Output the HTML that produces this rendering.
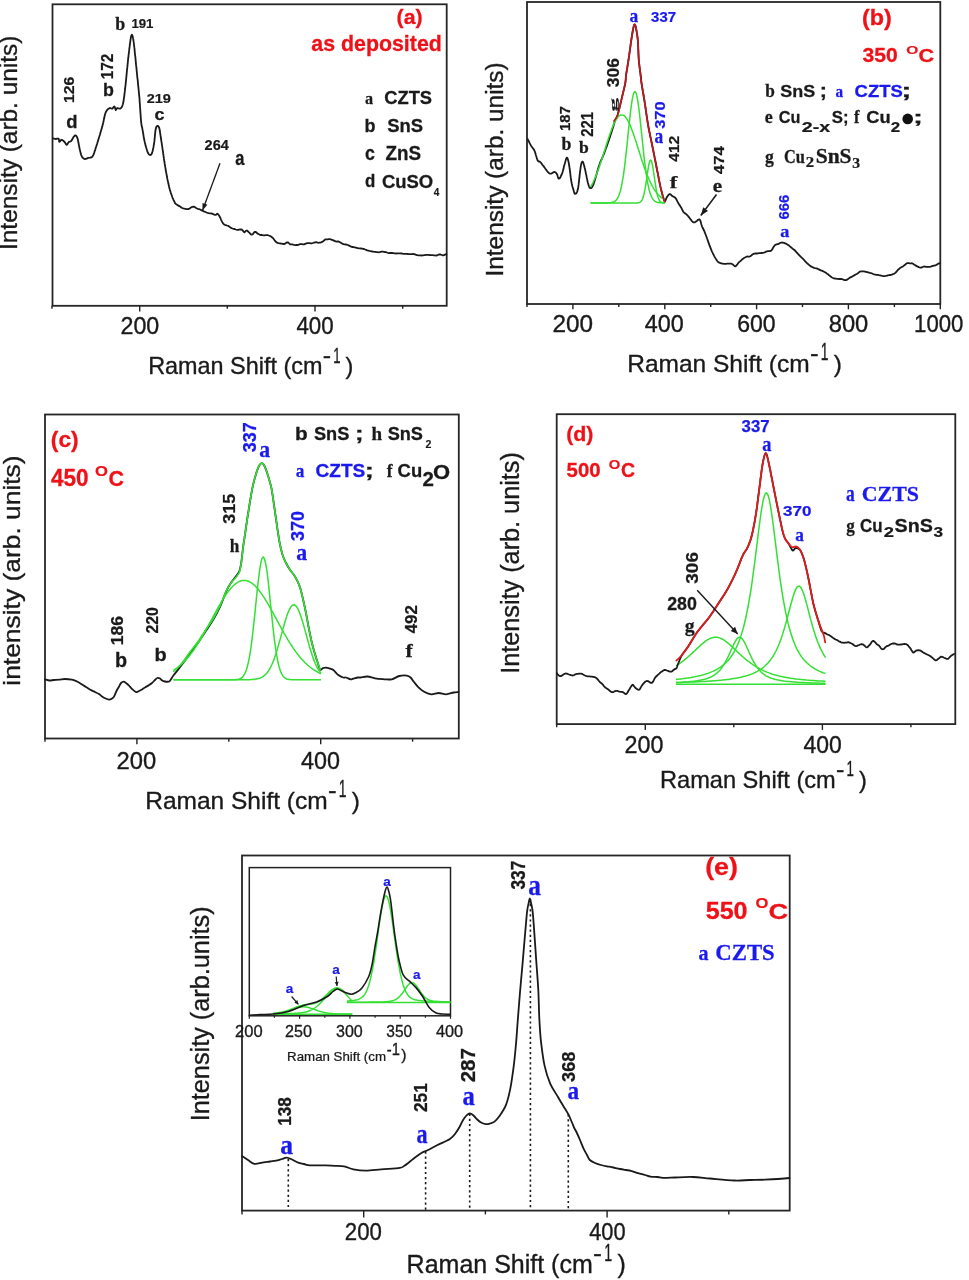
<!DOCTYPE html>
<html><head><meta charset="utf-8"><style>
html,body{margin:0;padding:0;background:#fff;}
body{width:969px;height:1280px;overflow:hidden;}
svg{display:block;will-change:transform;}
</style></head><body>
<svg width="969" height="1280" viewBox="0 0 969 1280">
<rect width="969" height="1280" fill="#fff"/>
<rect x="52.5" y="4.3" width="394.2" height="301.5" fill="none" stroke="#262626" stroke-width="1.8"/>
<line x1="139.7" y1="305.8" x2="139.7" y2="311.6" stroke="#222" stroke-width="1.4"/>
<line x1="315.0" y1="305.8" x2="315.0" y2="311.6" stroke="#222" stroke-width="1.4"/>
<line x1="52.0" y1="305.8" x2="52.0" y2="308.8" stroke="#222" stroke-width="1.4"/>
<line x1="227.3" y1="305.8" x2="227.3" y2="308.8" stroke="#222" stroke-width="1.4"/>
<line x1="402.7" y1="305.8" x2="402.7" y2="308.8" stroke="#222" stroke-width="1.4"/>
<text x="120.5" y="334.1" font-family='"Liberation Sans", sans-serif' font-weight="normal" font-size="23.16" fill="#1a1a1a" text-anchor="start" textLength="38.8" lengthAdjust="spacingAndGlyphs" stroke="#1a1a1a" stroke-width="0.35">200</text>
<text x="296.4" y="334.1" font-family='"Liberation Sans", sans-serif' font-weight="normal" font-size="23.16" fill="#1a1a1a" text-anchor="start" textLength="37.3" lengthAdjust="spacingAndGlyphs" stroke="#1a1a1a" stroke-width="0.35">400</text>
<text x="148.2" y="374.0" font-family='"Liberation Sans", sans-serif' font-weight="normal" font-size="23.4" fill="#1a1a1a" text-anchor="start" stroke="#1a1a1a" stroke-width="0.35">Raman Shift (cm</text>
<text x="322.7" y="363.4" font-family='"Liberation Sans", sans-serif' font-weight="normal" font-size="22.74" fill="#1a1a1a" text-anchor="start" textLength="8.3" lengthAdjust="spacingAndGlyphs" stroke="#1a1a1a" stroke-width="0.35">-</text>
<text x="333.2" y="362.5" font-family='"Liberation Sans", sans-serif' font-weight="normal" font-size="22.44" fill="#1a1a1a" text-anchor="start" textLength="7.3" lengthAdjust="spacingAndGlyphs" stroke="#1a1a1a" stroke-width="0.35">1</text>
<text x="345.4" y="374.0" font-family='"Liberation Sans", sans-serif' font-weight="normal" font-size="23.4" fill="#1a1a1a" text-anchor="start" stroke="#1a1a1a" stroke-width="0.35">)</text>
<text transform="translate(17.0,250.0) rotate(-90)" x="0" y="0" font-family='"Liberation Sans", sans-serif' font-weight="normal" font-size="24.4" fill="#1a1a1a" text-anchor="start" textLength="214.4" lengthAdjust="spacingAndGlyphs" stroke="#1a1a1a" stroke-width="0.35">Intensity (arb. units)</text>
<path d="M52.9,138.3 L54.2,138.7 L55.8,139.0 L57.4,138.7 L58.7,138.7 L59.0,139.7 L59.1,141.1 L59.4,141.9 L60.0,141.4 L60.8,140.3 L61.6,139.7 L62.5,140.1 L63.6,141.0 L64.5,141.9 L65.3,143.0 L66.0,144.2 L66.7,144.8 L67.4,144.2 L68.1,142.9 L68.8,141.9 L69.9,141.6 L71.0,141.2 L71.6,140.5 L72.1,139.5 L72.7,138.5 L73.2,137.6 L73.9,136.6 L74.6,135.7 L75.3,135.4 L76.0,135.7 L76.8,136.6 L77.5,138.3 L77.7,139.0 L77.9,139.8 L78.1,140.8 L78.3,141.8 L78.5,142.9 L78.7,144.0 L78.9,145.1 L79.1,146.2 L79.3,147.2 L79.5,148.2 L79.7,149.1 L80.0,150.4 L80.3,151.6 L80.6,152.7 L80.8,153.8 L81.1,154.8 L81.5,155.6 L81.8,156.4 L82.7,157.8 L83.7,158.6 L84.7,159.0 L85.9,158.8 L87.1,158.3 L88.3,157.8 L89.8,157.7 L91.2,157.5 L92.0,157.0 L92.6,156.3 L93.4,154.9 L93.7,154.2 L94.0,153.4 L94.3,152.6 L94.6,151.6 L94.9,150.6 L95.3,149.5 L95.6,148.4 L95.9,147.3 L96.3,146.2 L96.6,145.3 L96.9,144.4 L97.2,143.5 L97.5,142.5 L97.8,141.5 L98.1,140.5 L98.4,139.5 L98.7,138.5 L99.0,137.5 L99.3,136.6 L99.6,135.6 L99.9,134.7 L100.2,133.6 L100.5,132.6 L100.8,131.6 L101.1,130.6 L101.4,129.6 L101.7,128.6 L102.0,127.6 L102.3,126.6 L102.5,125.6 L102.8,124.6 L103.0,123.6 L103.3,122.5 L103.5,121.4 L103.7,120.3 L103.9,119.2 L104.2,118.1 L104.4,117.1 L104.6,116.2 L104.8,115.3 L105.0,114.5 L105.5,112.9 L106.0,111.8 L106.5,110.9 L107.1,110.1 L108.0,109.1 L109.1,108.4 L110.0,108.0 L111.1,108.4 L112.2,108.7 L113.0,108.0 L113.7,106.9 L114.4,106.5 L114.9,107.5 L115.4,109.1 L115.8,110.1 L116.4,109.2 L117.2,108.0 L118.6,108.4 L120.1,108.7 L120.9,108.1 L121.7,107.1 L122.3,105.8 L122.6,105.0 L122.9,104.2 L123.1,103.2 L123.4,101.8 L123.7,100.0 L123.8,99.3 L123.9,98.5 L124.0,97.6 L124.2,96.8 L124.3,95.8 L124.4,94.9 L124.5,93.9 L124.6,92.8 L124.8,91.7 L124.9,90.6 L125.0,89.4 L125.2,88.2 L125.3,86.9 L125.5,85.6 L125.6,84.3 L125.7,83.4 L125.8,82.5 L125.9,81.6 L126.0,80.6 L126.1,79.6 L126.2,78.6 L126.3,77.6 L126.4,76.5 L126.5,75.4 L126.6,74.3 L126.7,73.2 L126.8,72.1 L126.9,71.0 L127.0,69.9 L127.1,68.8 L127.3,67.7 L127.4,66.6 L127.5,65.5 L127.6,64.5 L127.7,63.4 L127.8,62.4 L127.9,61.4 L128.0,60.4 L128.1,59.5 L128.2,58.3 L128.4,57.2 L128.5,56.0 L128.6,54.8 L128.8,53.6 L128.9,52.5 L129.0,51.3 L129.2,50.2 L129.3,49.1 L129.4,48.0 L129.6,46.9 L129.7,45.9 L129.8,44.9 L129.9,44.0 L130.1,43.1 L130.2,42.2 L130.3,41.4 L130.4,40.7 L130.5,40.0 L130.8,37.9 L131.1,36.5 L131.3,35.6 L131.6,35.1 L131.8,34.8 L132.2,35.0 L132.6,36.2 L133.0,38.0 L133.1,38.7 L133.3,39.3 L133.4,40.0 L133.5,40.8 L133.6,41.7 L133.8,42.8 L133.9,44.0 L134.1,45.5 L134.3,47.2 L134.4,47.9 L134.5,48.7 L134.6,49.5 L134.6,50.4 L134.7,51.3 L134.8,52.3 L134.9,53.3 L135.0,54.3 L135.1,55.3 L135.3,56.4 L135.4,57.5 L135.5,58.6 L135.6,59.7 L135.7,60.8 L135.8,61.9 L135.9,63.1 L136.0,64.2 L136.1,65.4 L136.3,66.5 L136.4,67.6 L136.5,68.7 L136.6,69.8 L136.7,70.9 L136.8,71.9 L136.9,72.9 L137.0,74.0 L137.1,75.0 L137.2,76.0 L137.3,77.1 L137.4,78.1 L137.6,79.1 L137.7,80.2 L137.8,81.2 L137.9,82.2 L138.0,83.3 L138.1,84.3 L138.2,85.3 L138.3,86.4 L138.4,87.4 L138.5,88.4 L138.6,89.5 L138.7,90.5 L138.8,91.5 L138.9,92.6 L139.0,93.6 L139.1,94.6 L139.2,95.7 L139.3,96.7 L139.4,97.7 L139.5,98.8 L139.6,99.9 L139.6,101.0 L139.7,102.2 L139.8,103.3 L139.9,104.5 L140.0,105.6 L140.0,106.8 L140.1,107.9 L140.2,109.1 L140.3,110.2 L140.3,111.3 L140.4,112.4 L140.5,113.5 L140.6,114.5 L140.6,115.5 L140.7,116.5 L140.8,117.5 L140.8,118.4 L140.9,119.2 L141.0,120.0 L141.0,120.8 L141.1,121.5 L141.3,123.4 L141.5,124.7 L141.6,125.6 L141.8,126.2 L142.0,126.9 L142.2,127.7 L142.4,128.9 L142.5,129.7 L142.7,130.6 L142.9,131.6 L143.0,132.6 L143.2,133.6 L143.4,134.7 L143.5,135.8 L143.7,136.9 L143.9,137.9 L144.1,139.0 L144.3,140.0 L144.5,141.0 L144.7,141.9 L145.0,143.1 L145.3,144.2 L145.5,145.4 L145.9,146.5 L146.2,147.6 L146.5,148.6 L146.8,149.6 L147.1,150.5 L147.3,151.3 L147.6,152.0 L148.4,153.7 L149.1,154.5 L149.8,154.9 L150.8,155.0 L151.9,153.5 L152.1,152.8 L152.3,152.1 L152.6,151.2 L152.8,150.2 L153.0,149.1 L153.3,148.0 L153.5,146.8 L153.7,145.7 L153.9,144.5 L154.1,143.3 L154.2,142.4 L154.4,141.4 L154.5,140.3 L154.6,139.2 L154.7,138.1 L154.8,137.0 L154.9,135.9 L155.0,134.8 L155.1,133.8 L155.2,132.8 L155.3,131.8 L155.4,131.0 L155.5,130.3 L155.9,128.5 L156.2,127.2 L156.6,126.5 L157.0,126.0 L158.1,125.9 L159.1,127.5 L159.3,128.2 L159.5,129.0 L159.7,129.9 L159.8,131.0 L160.0,132.1 L160.2,133.4 L160.4,134.7 L160.6,136.1 L160.7,137.0 L160.9,137.9 L161.0,138.8 L161.2,139.8 L161.3,140.8 L161.5,141.9 L161.7,143.0 L161.8,144.1 L162.0,145.2 L162.2,146.3 L162.3,147.4 L162.5,148.5 L162.6,149.6 L162.8,150.6 L163.0,151.6 L163.1,152.6 L163.2,153.7 L163.4,154.7 L163.5,155.7 L163.7,156.7 L163.8,157.7 L163.9,158.7 L164.1,159.8 L164.2,160.8 L164.4,161.8 L164.6,162.9 L164.7,163.9 L164.9,165.0 L165.1,166.0 L165.2,166.9 L165.4,167.9 L165.6,169.0 L165.7,170.0 L165.9,171.0 L166.1,172.1 L166.3,173.1 L166.5,174.2 L166.7,175.2 L166.9,176.2 L167.1,177.2 L167.2,178.2 L167.4,179.1 L167.6,180.0 L167.8,180.9 L168.1,182.1 L168.3,183.3 L168.6,184.4 L168.8,185.5 L169.0,186.5 L169.3,187.6 L169.5,188.6 L169.8,189.6 L170.1,190.5 L170.4,191.5 L170.7,192.5 L171.1,193.6 L171.5,194.7 L171.9,195.8 L172.3,197.0 L172.7,198.1 L173.2,199.1 L173.6,200.1 L174.1,201.0 L174.5,201.9 L175.0,203.1 L175.8,203.9 L176.7,204.5 L177.5,205.1 L178.4,205.6 L179.3,206.1 L180.1,206.6 L181.2,207.4 L182.3,208.0 L183.3,208.4 L184.4,208.7 L185.5,208.9 L186.6,209.1 L187.7,209.2 L188.7,209.0 L189.7,208.5 L190.6,207.7 L191.5,207.2 L192.4,206.9 L193.5,206.7 L194.7,206.9 L196.1,207.9 L197.0,208.5 L197.9,208.9 L199.0,209.1 L200.1,209.5 L201.2,210.1 L202.3,210.7 L203.3,211.1 L204.4,211.6 L205.5,212.0 L206.5,212.5 L207.6,212.9 L208.7,213.2 L209.7,213.3 L210.9,213.3 L212.0,213.7 L213.2,214.2 L214.2,214.6 L215.2,214.8 L215.9,214.9 L217.2,213.7 L217.9,214.1 L218.7,215.0 L219.6,216.5 L220.0,217.2 L220.5,218.2 L220.9,219.3 L221.4,220.4 L221.9,221.4 L222.4,222.3 L222.9,223.1 L223.3,223.7 L224.2,224.5 L224.9,224.8 L225.8,225.1 L226.9,225.5 L228.1,225.8 L229.5,226.7 L230.4,227.5 L231.5,228.1 L232.5,228.5 L233.6,228.8 L234.5,229.0 L235.8,229.5 L237.0,229.8 L238.2,229.9 L239.5,229.5 L240.8,229.3 L241.9,229.6 L242.8,230.6 L243.6,231.8 L244.4,232.4 L245.1,231.8 L245.9,230.8 L246.9,230.5 L247.6,231.0 L248.4,231.8 L249.3,232.7 L250.2,233.7 L251.0,234.5 L251.8,234.7 L252.8,234.2 L253.6,233.1 L254.5,232.0 L255.5,231.8 L256.4,232.5 L257.3,233.4 L258.4,234.0 L259.4,234.6 L260.5,235.0 L261.5,235.0 L262.5,235.2 L263.6,235.3 L264.7,235.3 L265.7,235.1 L266.7,235.1 L267.8,235.2 L268.7,235.5 L269.7,235.8 L270.6,236.3 L271.6,236.9 L272.3,237.4 L273.0,238.1 L273.7,239.0 L274.4,240.0 L275.1,240.9 L275.8,241.8 L276.6,242.4 L277.6,242.8 L278.6,243.1 L279.7,243.3 L280.8,243.5 L281.8,243.6 L282.8,243.8 L283.9,244.0 L284.9,243.8 L285.9,243.1 L286.8,242.5 L287.7,242.4 L288.6,242.9 L289.4,243.6 L290.2,244.4 L291.5,244.4 L292.3,244.3 L293.2,244.6 L294.2,244.9 L295.3,245.1 L296.4,245.0 L297.5,245.0 L298.8,244.7 L300.0,244.2 L301.0,244.1 L302.0,244.2 L303.0,244.3 L304.1,244.4 L305.2,243.9 L306.4,243.4 L307.5,243.1 L308.6,243.2 L309.7,243.2 L310.7,243.3 L311.7,243.3 L312.9,243.0 L314.0,242.6 L315.1,242.3 L316.2,242.2 L317.3,242.5 L318.3,242.8 L319.3,242.7 L320.2,242.6 L321.0,242.4 L322.3,241.9 L323.4,241.0 L324.4,240.1 L325.2,239.5 L326.0,239.4 L327.5,239.4 L328.7,239.1 L329.7,239.1 L330.8,239.4 L332.0,239.8 L332.9,240.1 L333.9,240.6 L335.0,241.2 L336.5,241.7 L337.3,241.5 L338.2,241.3 L339.1,241.7 L340.1,242.3 L341.2,243.0 L342.3,243.7 L343.4,244.1 L344.6,244.3 L345.8,244.5 L346.7,244.7 L347.7,245.0 L348.6,245.4 L349.6,245.9 L350.7,246.4 L351.7,246.8 L352.7,247.0 L353.8,247.2 L354.9,247.5 L355.9,247.7 L357.0,248.0 L358.0,248.2 L359.0,248.3 L360.0,248.4 L361.1,248.5 L362.1,248.6 L363.1,248.8 L364.1,249.0 L365.1,249.5 L366.2,249.9 L367.2,250.3 L368.3,250.6 L369.4,250.9 L370.5,251.1 L371.5,251.3 L372.4,251.5 L373.4,251.7 L374.4,251.8 L375.4,251.9 L376.5,252.1 L377.5,252.2 L378.5,252.3 L379.6,252.2 L380.7,251.9 L381.7,251.7 L382.8,251.6 L383.9,251.8 L385.0,252.0 L386.0,252.1 L387.0,252.5 L388.0,252.8 L389.1,253.1 L390.1,253.0 L391.2,253.0 L392.2,253.0 L393.3,253.1 L394.4,253.3 L395.4,253.4 L396.5,253.5 L397.5,253.4 L398.6,253.3 L399.6,253.3 L400.5,253.4 L401.5,253.5 L402.6,253.7 L403.8,253.8 L404.9,253.8 L406.0,253.8 L407.0,253.8 L408.1,254.0 L409.1,254.1 L410.1,254.2 L411.1,254.1 L412.1,254.1 L413.1,254.0 L414.0,254.1 L415.0,254.4 L416.1,254.8 L417.2,255.2 L418.3,255.3 L419.3,255.4 L420.3,255.4 L421.3,255.5 L422.3,255.4 L423.3,255.3 L424.3,255.2 L425.2,255.1 L426.2,254.9 L427.3,254.8 L428.5,254.8 L429.5,255.0 L430.6,255.1 L431.7,255.2 L432.7,255.2 L433.8,255.3 L434.9,255.4 L436.0,255.6 L437.1,255.4 L438.2,254.7 L439.4,254.5 L440.6,254.5 L441.8,255.0 L443.0,255.5 L444.0,255.1 L445.0,254.7 L445.8,254.4 L446.4,254.2" fill="none" stroke="#1a1a1a" stroke-width="1.8" stroke-linejoin="round" stroke-linecap="round"/>
<line x1="220.0" y1="163.3" x2="202.5" y2="210.5" stroke="#1a1a1a" stroke-width="1.3"/>
<path d="M202.5,210.5 L202.5,203.0 L207.4,204.8 Z" fill="#1a1a1a"/>
<text x="396.6" y="23.5" font-family='"Liberation Sans", sans-serif' font-weight="bold" font-size="20.9" fill="#ee1218" text-anchor="start" textLength="26.1" lengthAdjust="spacingAndGlyphs" stroke="#ee1218" stroke-width="0.28">(a)</text>
<text x="311.3" y="50.7" font-family='"Liberation Sans", sans-serif' font-weight="bold" font-size="21.54" fill="#ee1218" text-anchor="start" textLength="130.5" lengthAdjust="spacingAndGlyphs" stroke="#ee1218" stroke-width="0.28">as deposited</text>
<text x="365.0" y="104.2" font-family='"Liberation Serif", serif' font-weight="bold" font-size="17.33" fill="#1a1a1a" text-anchor="start" textLength="8.1" lengthAdjust="spacingAndGlyphs" stroke="#1a1a1a" stroke-width="0.27">a</text>
<text x="384.2" y="104.2" font-family='"Liberation Sans", sans-serif' font-weight="bold" font-size="18.64" fill="#1a1a1a" text-anchor="start" textLength="47.9" lengthAdjust="spacingAndGlyphs" stroke="#1a1a1a" stroke-width="0.28">CZTS</text>
<text x="364.6" y="131.9" font-family='"Liberation Sans", sans-serif' font-weight="bold" font-size="18.64" fill="#1a1a1a" text-anchor="start" textLength="11.0" lengthAdjust="spacingAndGlyphs" stroke="#1a1a1a" stroke-width="0.28">b</text>
<text x="387.2" y="131.9" font-family='"Liberation Sans", sans-serif' font-weight="bold" font-size="18.79" fill="#1a1a1a" text-anchor="start" textLength="35.9" lengthAdjust="spacingAndGlyphs" stroke="#1a1a1a" stroke-width="0.28">SnS</text>
<text x="365.1" y="160.0" font-family='"Liberation Sans", sans-serif' font-weight="bold" font-size="19.71" fill="#1a1a1a" text-anchor="start" textLength="9.9" lengthAdjust="spacingAndGlyphs" stroke="#1a1a1a" stroke-width="0.28">c</text>
<text x="385.5" y="160.0" font-family='"Liberation Sans", sans-serif' font-weight="bold" font-size="19.35" fill="#1a1a1a" text-anchor="start" textLength="35.6" lengthAdjust="spacingAndGlyphs" stroke="#1a1a1a" stroke-width="0.28">ZnS</text>
<text x="365.0" y="187.2" font-family='"Liberation Sans", sans-serif' font-weight="bold" font-size="19.18" fill="#1a1a1a" text-anchor="start" textLength="10.3" lengthAdjust="spacingAndGlyphs" stroke="#1a1a1a" stroke-width="0.28">d</text>
<text x="381.9" y="187.6" font-family='"Liberation Sans", sans-serif' font-weight="bold" font-size="18.93" fill="#1a1a1a" text-anchor="start" textLength="51.3" lengthAdjust="spacingAndGlyphs" stroke="#1a1a1a" stroke-width="0.28">CuSO</text>
<text x="433.7" y="195.6" font-family='"Liberation Sans", sans-serif' font-weight="bold" font-size="11.34" fill="#1a1a1a" text-anchor="start" textLength="5.6" lengthAdjust="spacingAndGlyphs" stroke="#1a1a1a" stroke-width="0.18">4</text>
<text x="115.3" y="30.4" font-family='"Liberation Serif", serif' font-weight="bold" font-size="19.89" fill="#1a1a1a" text-anchor="start" textLength="10.0" lengthAdjust="spacingAndGlyphs" stroke="#1a1a1a" stroke-width="0.28">b</text>
<text x="131.4" y="28.1" font-family='"Liberation Sans", sans-serif' font-weight="bold" font-size="12.85" fill="#1a1a1a" text-anchor="start" textLength="22.1" lengthAdjust="spacingAndGlyphs" stroke="#1a1a1a" stroke-width="0.20">191</text>
<text transform="translate(113.3,79.3) rotate(-90)" x="0" y="0" font-family='"Liberation Sans", sans-serif' font-weight="bold" font-size="15.69" fill="#1a1a1a" text-anchor="start" textLength="25.6" lengthAdjust="spacingAndGlyphs" stroke="#1a1a1a" stroke-width="0.24">172</text>
<text x="103.1" y="96.2" font-family='"Liberation Sans", sans-serif' font-weight="bold" font-size="18.64" fill="#1a1a1a" text-anchor="start" textLength="10.9" lengthAdjust="spacingAndGlyphs" stroke="#1a1a1a" stroke-width="0.28">b</text>
<text transform="translate(74.0,103.1) rotate(-90)" x="0" y="0" font-family='"Liberation Sans", sans-serif' font-weight="bold" font-size="14.97" fill="#1a1a1a" text-anchor="start" textLength="26.3" lengthAdjust="spacingAndGlyphs" stroke="#1a1a1a" stroke-width="0.23">126</text>
<text x="66.3" y="127.8" font-family='"Liberation Sans", sans-serif' font-weight="bold" font-size="18.91" fill="#1a1a1a" text-anchor="start" textLength="11.3" lengthAdjust="spacingAndGlyphs" stroke="#1a1a1a" stroke-width="0.28">d</text>
<text x="146.7" y="102.7" font-family='"Liberation Sans", sans-serif' font-weight="bold" font-size="13.28" fill="#1a1a1a" text-anchor="start" textLength="24.1" lengthAdjust="spacingAndGlyphs" stroke="#1a1a1a" stroke-width="0.21">219</text>
<text x="154.5" y="119.6" font-family='"Liberation Sans", sans-serif' font-weight="bold" font-size="16.24" fill="#1a1a1a" text-anchor="start" textLength="10.0" lengthAdjust="spacingAndGlyphs" stroke="#1a1a1a" stroke-width="0.25">c</text>
<text x="204.6" y="150.4" font-family='"Liberation Sans", sans-serif' font-weight="bold" font-size="14.83" fill="#1a1a1a" text-anchor="start" textLength="24.2" lengthAdjust="spacingAndGlyphs" stroke="#1a1a1a" stroke-width="0.23">264</text>
<text x="235.3" y="165.0" font-family='"Liberation Sans", sans-serif' font-weight="bold" font-size="19.34" fill="#1a1a1a" text-anchor="start" textLength="9.2" lengthAdjust="spacingAndGlyphs" stroke="#1a1a1a" stroke-width="0.28">a</text>
<rect x="527.0" y="2.0" width="413.3" height="302.0" fill="none" stroke="#262626" stroke-width="1.8"/>
<line x1="572.9" y1="303.8" x2="572.9" y2="309.3" stroke="#222" stroke-width="1.4"/>
<line x1="664.8" y1="303.8" x2="664.8" y2="309.3" stroke="#222" stroke-width="1.4"/>
<line x1="756.6" y1="303.8" x2="756.6" y2="309.3" stroke="#222" stroke-width="1.4"/>
<line x1="848.4" y1="303.8" x2="848.4" y2="309.3" stroke="#222" stroke-width="1.4"/>
<line x1="940.3" y1="303.8" x2="940.3" y2="309.3" stroke="#222" stroke-width="1.4"/>
<line x1="527.0" y1="303.8" x2="527.0" y2="307.1" stroke="#222" stroke-width="1.4"/>
<line x1="618.8" y1="303.8" x2="618.8" y2="307.1" stroke="#222" stroke-width="1.4"/>
<line x1="710.7" y1="303.8" x2="710.7" y2="307.1" stroke="#222" stroke-width="1.4"/>
<line x1="802.5" y1="303.8" x2="802.5" y2="307.1" stroke="#222" stroke-width="1.4"/>
<line x1="894.4" y1="303.8" x2="894.4" y2="307.1" stroke="#222" stroke-width="1.4"/>
<text x="552.4" y="332.4" font-family='"Liberation Sans", sans-serif' font-weight="normal" font-size="24.01" fill="#1a1a1a" text-anchor="start" textLength="40.6" lengthAdjust="spacingAndGlyphs" stroke="#1a1a1a" stroke-width="0.35">200</text>
<text x="644.8" y="332.4" font-family='"Liberation Sans", sans-serif' font-weight="normal" font-size="24.01" fill="#1a1a1a" text-anchor="start" textLength="39.0" lengthAdjust="spacingAndGlyphs" stroke="#1a1a1a" stroke-width="0.35">400</text>
<text x="737.2" y="332.4" font-family='"Liberation Sans", sans-serif' font-weight="normal" font-size="24.01" fill="#1a1a1a" text-anchor="start" textLength="38.5" lengthAdjust="spacingAndGlyphs" stroke="#1a1a1a" stroke-width="0.35">600</text>
<text x="828.7" y="332.4" font-family='"Liberation Sans", sans-serif' font-weight="normal" font-size="24.01" fill="#1a1a1a" text-anchor="start" textLength="39.6" lengthAdjust="spacingAndGlyphs" stroke="#1a1a1a" stroke-width="0.35">800</text>
<text x="914.1" y="332.4" font-family='"Liberation Sans", sans-serif' font-weight="normal" font-size="24.01" fill="#1a1a1a" text-anchor="start" textLength="49.3" lengthAdjust="spacingAndGlyphs" stroke="#1a1a1a" stroke-width="0.35">1000</text>
<text x="627.2" y="371.8" font-family='"Liberation Sans", sans-serif' font-weight="normal" font-size="24.5" fill="#1a1a1a" text-anchor="start" stroke="#1a1a1a" stroke-width="0.35">Raman Shift (cm</text>
<text x="810.0" y="360.7" font-family='"Liberation Sans", sans-serif' font-weight="normal" font-size="24.05" fill="#1a1a1a" text-anchor="start" textLength="8.7" lengthAdjust="spacingAndGlyphs" stroke="#1a1a1a" stroke-width="0.35">-</text>
<text x="820.8" y="359.8" font-family='"Liberation Sans", sans-serif' font-weight="normal" font-size="23.55" fill="#1a1a1a" text-anchor="start" textLength="7.7" lengthAdjust="spacingAndGlyphs" stroke="#1a1a1a" stroke-width="0.35">1</text>
<text x="833.7" y="371.8" font-family='"Liberation Sans", sans-serif' font-weight="normal" font-size="24.5" fill="#1a1a1a" text-anchor="start" stroke="#1a1a1a" stroke-width="0.35">)</text>
<text transform="translate(503.1,276.5) rotate(-90)" x="0" y="0" font-family='"Liberation Sans", sans-serif' font-weight="normal" font-size="24.4" fill="#1a1a1a" text-anchor="start" textLength="214.2" lengthAdjust="spacingAndGlyphs" stroke="#1a1a1a" stroke-width="0.35">Intensity (arb. units)</text>
<path d="M527.8,139.1 L528.1,139.8 L528.5,140.6 L529.0,141.7 L529.5,142.8 L530.0,143.9 L530.6,144.9 L531.2,145.9 L531.8,146.8 L532.5,147.7 L533.2,148.6 L533.8,149.5 L534.3,150.4 L534.8,151.5 L535.2,152.6 L535.5,153.7 L535.8,154.8 L536.1,155.8 L536.5,157.0 L536.8,158.1 L537.2,159.3 L537.6,160.3 L538.0,161.0 L538.8,161.5 L539.8,161.7 L540.8,162.6 L541.5,163.5 L542.2,164.6 L543.0,165.5 L543.7,166.4 L544.5,167.4 L545.1,168.3 L545.8,169.3 L546.4,170.1 L547.0,171.0 L547.6,171.7 L548.2,172.4 L549.2,173.3 L550.0,173.7 L551.0,173.7 L552.2,173.1 L553.5,172.2 L554.7,172.0 L556.0,172.8 L557.0,174.2 L557.5,175.4 L557.9,176.9 L558.3,178.2 L558.9,178.7 L559.4,178.5 L559.9,178.0 L560.4,177.2 L561.0,175.8 L561.6,174.7 L562.1,173.4 L562.4,172.6 L562.7,171.6 L563.0,170.5 L563.3,169.4 L563.6,168.3 L563.8,167.1 L564.1,166.0 L564.4,164.9 L564.7,164.0 L564.9,163.1 L565.4,161.5 L565.8,159.9 L566.2,158.6 L566.6,157.8 L567.0,157.6 L567.3,157.9 L567.6,158.5 L567.9,159.4 L568.2,160.5 L568.5,161.8 L568.8,163.3 L569.1,165.0 L569.2,165.8 L569.4,166.7 L569.5,167.7 L569.7,168.7 L569.8,169.8 L570.0,171.0 L570.1,172.1 L570.3,173.3 L570.4,174.5 L570.5,175.6 L570.7,176.8 L570.8,177.9 L571.0,179.0 L571.1,180.0 L571.3,180.9 L571.4,181.7 L571.7,183.2 L572.0,184.5 L572.2,185.6 L572.5,186.7 L572.8,187.6 L573.0,188.4 L573.3,189.2 L573.5,190.0 L573.9,191.5 L574.3,192.7 L574.6,193.6 L575.1,193.8 L575.6,193.7 L576.1,193.4 L576.7,192.6 L577.3,191.3 L577.9,189.1 L578.0,188.4 L578.2,187.7 L578.3,186.8 L578.4,185.9 L578.6,184.9 L578.7,183.8 L578.8,182.7 L579.0,181.6 L579.1,180.4 L579.2,179.2 L579.4,178.0 L579.5,176.8 L579.6,175.6 L579.7,174.5 L579.9,173.3 L580.0,172.2 L580.1,171.1 L580.2,170.1 L580.4,169.2 L580.5,168.3 L580.6,167.6 L580.7,166.9 L581.1,164.6 L581.5,163.0 L581.9,162.1 L582.2,161.7 L582.6,161.7 L582.9,162.0 L583.2,162.6 L583.5,163.4 L583.8,164.5 L584.2,165.8 L584.5,167.2 L584.9,168.7 L585.1,169.5 L585.3,170.4 L585.5,171.3 L585.7,172.4 L585.9,173.5 L586.2,174.6 L586.4,175.7 L586.6,176.9 L586.8,178.0 L587.1,179.1 L587.3,180.2 L587.5,181.2 L587.7,182.1 L587.9,182.9 L588.1,183.6 L588.6,185.3 L589.1,186.6 L589.5,187.5 L590.0,188.0 L590.5,188.2 L591.1,188.1 L591.6,187.7 L592.2,186.9 L592.9,185.6 L593.7,183.6 L593.9,182.9 L594.2,182.2 L594.5,181.4 L594.7,180.5 L595.0,179.5 L595.3,178.5 L595.6,177.5 L595.9,176.4 L596.3,175.3 L596.6,174.1 L596.9,173.0 L597.2,171.9 L597.5,170.8 L597.8,169.7 L598.1,168.7 L598.4,167.7 L598.7,166.7 L599.0,165.8 L599.3,165.0 L599.7,163.8 L600.1,162.7 L600.5,161.7 L600.9,160.8 L601.3,159.9 L601.7,159.1 L602.0,158.3 L602.4,157.5 L602.8,156.6 L603.1,155.8 L603.5,154.9 L603.9,153.9 L604.3,153.0 L604.6,152.0 L605.0,151.0 L605.4,150.0 L605.7,149.0 L606.1,147.9 L606.5,146.9 L606.9,145.9 L607.2,144.8 L607.6,143.8 L607.9,142.8 L608.3,141.8 L608.6,140.9 L609.0,139.8 L609.3,138.7 L609.7,137.6 L610.1,136.6 L610.4,135.5 L610.7,134.5 L611.1,133.5 L611.4,132.5 L611.7,131.6 L612.0,130.6 L612.3,129.7 L612.6,128.6 L613.0,127.5 L613.3,126.5 L613.6,125.5 L613.9,124.5 L614.1,123.6 L614.4,122.7 L614.7,121.8 L615.0,121.0 L615.4,119.9 L615.8,119.1 L616.2,118.3 L616.7,117.5 L617.1,116.4 L617.6,115.0 L617.8,114.3 L618.0,113.5 L618.3,112.6 L618.5,111.7 L618.8,110.7 L619.0,109.7 L619.3,108.7 L619.5,107.7 L619.8,106.6 L620.0,105.5 L620.3,104.4 L620.6,103.3 L620.8,102.1 L621.1,101.0 L621.3,100.1 L621.5,99.2 L621.8,98.2 L622.0,97.2 L622.3,96.1 L622.5,95.1 L622.8,94.0 L623.1,92.9 L623.3,91.8 L623.6,90.8 L623.8,89.7 L624.0,88.7 L624.3,87.7 L624.5,86.8 L624.7,85.8 L624.9,85.0 L625.1,84.2 L625.2,83.4 L625.5,82.0 L625.6,80.8 L625.7,79.9 L625.8,79.0 L625.8,78.2 L625.8,77.3 L625.9,76.3 L626.1,75.0 L626.2,74.2 L626.3,73.4 L626.5,72.5 L626.6,71.6 L626.8,70.7 L626.9,69.7 L627.1,68.7 L627.3,67.7 L627.4,66.7 L627.6,65.6 L627.8,64.5 L628.0,63.4 L628.1,62.3 L628.3,61.2 L628.5,60.0 L628.6,59.1 L628.8,58.2 L628.9,57.2 L629.0,56.2 L629.2,55.2 L629.3,54.1 L629.5,53.1 L629.6,52.0 L629.8,50.9 L629.9,49.8 L630.1,48.7 L630.2,47.7 L630.4,46.6 L630.5,45.6 L630.6,44.6 L630.8,43.6 L630.9,42.6 L631.1,41.7 L631.2,40.8 L631.3,40.0 L631.5,38.7 L631.7,37.4 L631.9,36.2 L632.1,35.1 L632.2,34.0 L632.4,33.0 L632.6,32.0 L632.7,31.1 L632.9,30.2 L633.0,29.4 L633.2,28.7 L633.3,28.0 L633.8,25.9 L634.1,24.8 L634.5,24.4 L635.1,24.7 L635.8,27.0 L635.9,27.6 L636.1,28.4 L636.2,29.1 L636.4,30.0 L636.6,30.9 L636.7,31.9 L636.9,32.9 L637.1,34.0 L637.2,35.1 L637.4,36.3 L637.5,37.5 L637.7,38.7 L637.8,40.0 L637.9,40.8 L637.9,41.7 L638.0,42.7 L638.1,43.6 L638.1,44.6 L638.1,45.6 L638.2,46.7 L638.2,47.7 L638.3,48.8 L638.3,49.9 L638.4,51.0 L638.4,52.0 L638.4,53.1 L638.5,54.1 L638.5,55.2 L638.6,56.2 L638.6,57.2 L638.7,58.2 L638.7,59.1 L638.8,60.0 L638.9,61.2 L639.0,62.3 L639.1,63.4 L639.2,64.5 L639.4,65.6 L639.5,66.6 L639.6,67.6 L639.8,68.6 L639.9,69.6 L640.0,70.6 L640.1,71.5 L640.3,72.4 L640.4,73.3 L640.5,74.2 L640.6,75.0 L640.7,76.2 L640.9,77.2 L641.0,78.2 L641.1,79.1 L641.1,79.9 L641.2,80.8 L641.3,81.7 L641.5,82.7 L641.6,83.8 L641.8,85.0 L641.9,85.8 L642.1,86.7 L642.2,87.5 L642.4,88.4 L642.5,89.3 L642.7,90.2 L642.8,91.2 L643.0,92.2 L643.2,93.2 L643.4,94.2 L643.5,95.3 L643.7,96.3 L643.9,97.5 L644.1,98.6 L644.3,99.8 L644.5,101.0 L644.6,101.9 L644.8,102.8 L644.9,103.7 L645.1,104.7 L645.2,105.7 L645.4,106.7 L645.5,107.8 L645.7,108.8 L645.8,109.9 L646.0,111.0 L646.1,112.1 L646.3,113.1 L646.4,114.2 L646.6,115.3 L646.8,116.4 L646.9,117.5 L647.1,118.5 L647.2,119.6 L647.4,120.6 L647.5,121.6 L647.7,122.5 L647.8,123.5 L648.0,124.4 L648.2,125.6 L648.4,126.8 L648.6,127.9 L648.8,129.1 L649.1,130.2 L649.3,131.3 L649.5,132.4 L649.7,133.4 L649.9,134.4 L650.1,135.5 L650.3,136.5 L650.6,137.4 L650.8,138.4 L650.9,139.3 L651.1,140.2 L651.3,141.1 L651.5,142.0 L651.8,143.3 L652.0,144.5 L652.2,145.6 L652.5,146.7 L652.7,147.7 L652.9,148.7 L653.1,149.7 L653.3,150.7 L653.5,151.7 L653.7,152.7 L653.9,153.7 L654.1,154.8 L654.3,155.8 L654.5,156.9 L654.7,158.0 L655.0,159.0 L655.2,160.1 L655.4,161.1 L655.6,162.2 L655.8,163.3 L656.0,164.3 L656.2,165.4 L656.4,166.5 L656.6,167.5 L656.8,168.6 L657.0,169.7 L657.2,170.7 L657.4,171.8 L657.7,172.8 L657.9,173.9 L658.1,175.0 L658.3,176.0 L658.5,177.1 L658.7,178.2 L658.9,179.2 L659.1,180.3 L659.3,181.4 L659.6,182.5 L659.8,183.6 L660.0,184.6 L660.2,185.7 L660.4,186.7 L660.7,187.8 L660.9,188.8 L661.2,189.9 L661.5,191.1 L661.8,192.3 L662.1,193.5 L662.4,194.6 L662.7,195.8 L663.0,196.8 L663.3,197.8 L663.6,198.6 L663.8,199.3 L664.4,201.3 L664.9,201.5 L665.3,200.8 L665.8,199.6 L666.4,198.2 L667.0,197.0 L667.7,196.0 L668.4,195.0 L669.1,194.3 L669.8,194.0 L670.8,194.6 L672.0,195.9 L672.7,196.3 L673.5,196.6 L674.3,197.1 L675.2,197.6 L676.0,198.8 L676.5,199.6 L677.0,200.6 L677.5,201.6 L678.0,202.5 L678.5,203.4 L679.0,204.2 L679.5,205.1 L680.0,205.8 L680.6,206.7 L681.2,207.6 L681.7,208.6 L682.3,209.8 L682.9,211.0 L683.5,212.1 L684.2,212.7 L684.9,213.2 L685.6,213.8 L686.4,214.3 L687.2,215.1 L688.0,216.0 L688.7,216.9 L689.4,217.8 L690.1,218.7 L690.8,219.6 L691.5,220.6 L692.2,221.4 L692.9,222.0 L693.4,222.4 L694.8,222.4 L696.0,221.5 L696.9,220.9 L697.8,220.0 L698.8,219.4 L699.6,219.5 L700.1,220.2 L700.5,221.2 L700.9,222.4 L701.2,223.8 L701.6,225.1 L702.0,226.3 L702.5,227.5 L703.0,228.5 L703.5,229.5 L704.0,230.5 L704.5,231.6 L704.8,232.4 L705.2,233.3 L705.5,234.1 L705.8,235.0 L706.2,236.0 L706.6,237.0 L707.0,238.2 L707.3,239.0 L707.6,239.9 L707.9,240.9 L708.3,241.9 L708.6,242.9 L709.0,243.9 L709.3,244.9 L709.7,245.8 L710.0,246.7 L710.4,247.6 L710.7,248.4 L711.1,249.4 L711.5,250.4 L711.9,251.3 L712.3,252.1 L712.7,253.0 L713.1,253.9 L713.6,254.7 L714.0,255.6 L714.5,256.6 L715.1,257.6 L715.7,258.6 L716.3,259.6 L716.9,260.5 L717.5,261.3 L718.1,261.9 L719.3,262.7 L720.6,263.2 L722.0,263.6 L722.9,263.7 L723.9,263.8 L725.0,263.8 L726.1,263.8 L727.1,263.7 L728.0,263.6 L729.2,263.6 L730.2,263.6 L731.1,263.7 L732.0,264.0 L732.9,264.6 L733.8,265.4 L734.6,266.1 L735.5,266.3 L736.2,265.8 L736.9,264.9 L737.6,264.0 L738.3,263.0 L739.0,262.2 L739.8,261.6 L740.6,260.9 L741.4,260.2 L742.2,259.4 L743.0,258.7 L744.0,258.0 L745.0,257.5 L746.0,257.0 L747.0,256.5 L748.2,256.6 L749.2,256.7 L750.3,256.2 L751.3,255.5 L752.3,254.6 L753.4,253.9 L754.4,253.7 L755.5,253.5 L756.7,253.5 L758.0,253.3 L759.1,253.2 L760.3,253.1 L761.5,253.0 L762.7,252.9 L763.7,252.7 L764.9,252.3 L765.9,251.7 L767.0,251.3 L768.1,251.1 L769.3,251.1 L770.5,251.0 L771.4,250.5 L772.3,249.3 L773.0,247.9 L773.7,246.8 L774.5,245.7 L775.3,244.9 L776.6,244.4 L778.0,244.2 L779.2,243.5 L780.5,242.8 L781.7,242.5 L782.8,242.6 L783.9,242.9 L785.0,243.3 L786.0,243.7 L787.0,244.3 L788.1,245.0 L789.0,245.6 L789.9,246.4 L790.9,247.2 L792.0,248.1 L792.7,248.7 L793.4,249.2 L794.1,249.8 L794.9,250.5 L795.6,251.2 L796.4,252.1 L797.1,252.9 L797.8,253.7 L798.5,254.5 L799.2,255.2 L799.9,255.9 L800.6,256.6 L801.3,257.2 L802.0,257.9 L802.8,258.6 L803.6,259.5 L804.4,260.4 L805.2,261.3 L806.0,262.1 L806.7,262.9 L807.4,263.5 L808.4,264.4 L809.3,265.2 L810.1,265.9 L811.0,266.4 L812.0,266.9 L813.1,267.4 L814.1,267.8 L815.1,268.1 L816.5,268.3 L818.0,268.9 L818.8,269.4 L819.8,269.9 L820.8,270.4 L821.8,270.7 L822.8,271.1 L823.6,271.5 L824.5,272.0 L825.4,272.5 L826.3,273.1 L827.1,273.7 L828.0,274.3 L828.8,275.0 L829.6,275.6 L830.4,276.3 L831.3,277.0 L832.1,277.5 L833.1,278.0 L834.0,278.3 L835.0,278.5 L836.0,278.6 L837.0,278.8 L838.0,278.9 L839.0,279.0 L840.0,278.9 L841.1,279.0 L842.1,279.1 L843.1,279.5 L844.1,280.0 L845.1,280.2 L846.0,280.1 L847.1,279.7 L848.1,278.9 L849.0,278.3 L850.0,277.6 L851.0,277.1 L852.0,276.6 L853.1,276.0 L854.2,275.4 L855.2,274.7 L856.2,274.2 L857.2,273.7 L858.2,273.0 L859.1,272.2 L860.0,271.6 L861.0,271.4 L861.9,271.3 L862.9,271.3 L864.0,271.4 L864.9,271.6 L865.9,271.8 L866.9,272.0 L868.0,272.3 L869.0,272.6 L870.0,272.9 L871.1,273.2 L872.1,273.5 L873.2,274.0 L874.2,274.4 L875.4,274.6 L876.6,274.8 L877.8,274.9 L879.0,275.2 L880.1,275.4 L881.2,275.6 L882.3,275.9 L883.5,276.1 L884.5,276.1 L885.7,275.9 L886.7,275.7 L887.8,275.5 L889.0,275.2 L889.9,275.0 L890.9,274.8 L891.9,274.6 L892.9,274.2 L893.9,273.8 L894.8,273.2 L895.6,272.6 L896.3,271.8 L897.1,270.9 L897.8,270.0 L898.5,269.3 L899.3,268.7 L900.0,268.1 L900.9,267.5 L901.8,267.0 L902.8,266.5 L903.6,265.9 L904.4,265.3 L905.1,264.8 L906.2,263.7 L907.0,263.2 L907.9,263.1 L909.0,263.2 L910.2,263.5 L911.0,263.3 L912.0,263.2 L913.0,263.8 L914.0,264.5 L915.0,265.1 L915.9,265.6 L916.8,266.1 L917.8,266.6 L918.7,267.1 L919.6,267.4 L920.5,267.6 L921.7,267.5 L922.7,267.0 L923.8,266.5 L925.0,266.6 L926.1,266.9 L927.3,266.9 L928.5,266.9 L929.7,266.8 L930.8,266.6 L931.9,266.2 L933.0,265.8 L933.9,265.6 L935.0,265.5 L936.0,265.1 L937.1,264.4 L938.2,263.7 L939.1,263.4 L939.8,263.3" fill="none" stroke="#1a1a1a" stroke-width="1.8" stroke-linejoin="round" stroke-linecap="round"/>
<path d="M590.5,187.2 L591.1,186.1 L591.7,185.0 L592.4,183.7 L593.0,182.5 L593.6,181.2 L594.2,179.8 L594.8,178.4 L595.5,176.9 L596.1,175.4 L596.7,173.8 L597.3,172.2 L597.9,170.5 L598.6,168.8 L599.2,167.1 L599.8,165.3 L600.4,163.4 L601.0,161.6 L601.7,159.7 L602.3,157.8 L602.9,155.9 L603.5,153.9 L604.1,151.9 L604.8,150.0 L605.4,148.0 L606.0,146.0 L606.6,144.1 L607.2,142.1 L607.9,140.2 L608.5,138.3 L609.1,136.5 L609.7,134.7 L610.3,132.9 L611.0,131.2 L611.6,129.5 L612.2,127.9 L612.8,126.4 L613.4,124.9 L614.1,123.5 L614.7,122.3 L615.3,121.1 L615.9,120.0 L616.5,119.0 L617.2,118.1 L617.8,117.3 L618.4,116.6 L619.0,116.0 L619.6,115.6 L620.3,115.2 L620.9,115.0 L621.5,114.9 L622.1,114.9 L622.7,115.1 L623.4,115.3 L624.0,115.7 L624.6,116.2 L625.2,116.8 L625.8,117.5 L626.5,118.4 L627.1,119.3 L627.7,120.3 L628.3,121.5 L628.9,122.7 L629.6,124.0 L630.2,125.4 L630.8,126.9 L631.4,128.5 L632.0,130.1 L632.7,131.8 L633.3,133.5 L633.9,135.3 L634.5,137.1 L635.1,139.0 L635.8,140.9 L636.4,142.8 L637.0,144.8 L637.6,146.7 L638.2,148.7 L638.9,150.7 L639.5,152.6 L640.1,154.6 L640.7,156.5 L641.3,158.5 L642.0,160.4 L642.6,162.3 L643.2,164.1 L643.8,165.9 L644.4,167.7 L645.1,169.4 L645.7,171.1 L646.3,172.8 L646.9,174.4 L647.5,175.9 L648.2,177.4 L648.8,178.9 L649.4,180.3 L650.0,181.6 L650.6,182.9 L651.3,184.2 L651.9,185.4 L652.5,186.5 L653.1,187.6 L653.7,188.6 L654.4,189.6 L655.0,190.5 L655.6,191.4 L656.2,192.2 L656.8,193.0 L657.5,193.8 L658.1,194.5 L658.7,195.1 L659.3,195.7 L659.9,196.3 L660.6,196.8 L661.2,197.3 L661.8,197.8 L662.4,198.2 L663.0,198.6 L663.7,199.0 L664.3,199.4 L664.9,199.7" fill="none" stroke="#33e033" stroke-width="1.5" stroke-linejoin="round"/>
<path d="M590.5,202.9 L591.1,202.9 L591.7,202.9 L592.4,202.9 L593.0,202.9 L593.6,202.9 L594.2,202.9 L594.8,202.9 L595.5,202.9 L596.1,202.9 L596.7,202.9 L597.3,202.9 L597.9,202.9 L598.6,202.9 L599.2,202.9 L599.8,202.9 L600.4,202.9 L601.0,202.9 L601.7,202.9 L602.3,202.9 L602.9,202.9 L603.5,202.9 L604.1,202.9 L604.8,202.9 L605.4,202.9 L606.0,202.9 L606.6,202.9 L607.2,202.9 L607.9,202.8 L608.5,202.8 L609.1,202.8 L609.7,202.8 L610.3,202.7 L611.0,202.6 L611.6,202.5 L612.2,202.4 L612.8,202.2 L613.4,202.0 L614.1,201.7 L614.7,201.4 L615.3,200.9 L615.9,200.4 L616.5,199.7 L617.2,198.8 L617.8,197.8 L618.4,196.5 L619.0,195.0 L619.6,193.3 L620.3,191.2 L620.9,188.8 L621.5,186.0 L622.1,182.9 L622.7,179.3 L623.4,175.4 L624.0,171.1 L624.6,166.4 L625.2,161.3 L625.8,155.9 L626.5,150.2 L627.1,144.3 L627.7,138.3 L628.3,132.3 L628.9,126.3 L629.6,120.4 L630.2,114.8 L630.8,109.6 L631.4,104.9 L632.0,100.8 L632.7,97.3 L633.3,94.6 L633.9,92.8 L634.5,91.8 L635.1,91.7 L635.8,92.5 L636.4,94.1 L637.0,96.6 L637.6,99.9 L638.2,103.9 L638.9,108.5 L639.5,113.6 L640.1,119.1 L640.7,124.9 L641.3,130.9 L642.0,137.0 L642.6,143.0 L643.2,148.9 L643.8,154.6 L644.4,160.1 L645.1,165.3 L645.7,170.1 L646.3,174.5 L646.9,178.5 L647.5,182.1 L648.2,185.3 L648.8,188.2 L649.4,190.7 L650.0,192.8 L650.6,194.6 L651.3,196.2 L651.9,197.5 L652.5,198.6 L653.1,199.5 L653.7,200.2 L654.4,200.8 L655.0,201.3 L655.6,201.7 L656.2,202.0 L656.8,202.2 L657.5,202.4 L658.1,202.5 L658.7,202.6 L659.3,202.7 L659.9,202.7 L660.6,202.8 L661.2,202.8 L661.8,202.8 L662.4,202.9 L663.0,202.9 L663.7,202.9 L664.3,202.9 L664.9,202.9" fill="none" stroke="#33e033" stroke-width="1.5" stroke-linejoin="round"/>
<path d="M590.5,202.9 L591.1,202.9 L591.7,202.9 L592.4,202.9 L593.0,202.9 L593.6,202.9 L594.2,202.9 L594.8,202.9 L595.5,202.9 L596.1,202.9 L596.7,202.9 L597.3,202.9 L597.9,202.9 L598.6,202.9 L599.2,202.9 L599.8,202.9 L600.4,202.9 L601.0,202.9 L601.7,202.9 L602.3,202.9 L602.9,202.9 L603.5,202.9 L604.1,202.9 L604.8,202.9 L605.4,202.9 L606.0,202.9 L606.6,202.9 L607.2,202.9 L607.9,202.9 L608.5,202.9 L609.1,202.9 L609.7,202.9 L610.3,202.9 L611.0,202.9 L611.6,202.9 L612.2,202.9 L612.8,202.9 L613.4,202.9 L614.1,202.9 L614.7,202.9 L615.3,202.9 L615.9,202.9 L616.5,202.9 L617.2,202.9 L617.8,202.9 L618.4,202.9 L619.0,202.9 L619.6,202.9 L620.3,202.9 L620.9,202.9 L621.5,202.9 L622.1,202.9 L622.7,202.9 L623.4,202.9 L624.0,202.9 L624.6,202.9 L625.2,202.9 L625.8,202.9 L626.5,202.9 L627.1,202.9 L627.7,202.9 L628.3,202.9 L628.9,202.9 L629.6,202.9 L630.2,202.9 L630.8,202.9 L631.4,202.9 L632.0,202.9 L632.7,202.9 L633.3,202.9 L633.9,202.9 L634.5,202.9 L635.1,202.9 L635.8,202.9 L636.4,202.9 L637.0,202.9 L637.6,202.8 L638.2,202.7 L638.9,202.6 L639.5,202.4 L640.1,202.1 L640.7,201.7 L641.3,201.0 L642.0,200.1 L642.6,198.8 L643.2,197.1 L643.8,194.9 L644.4,192.2 L645.1,188.9 L645.7,185.2 L646.3,181.1 L646.9,176.8 L647.5,172.5 L648.2,168.5 L648.8,165.0 L649.4,162.3 L650.0,160.6 L650.6,160.1 L651.3,160.8 L651.9,162.6 L652.5,165.4 L653.1,169.0 L653.7,173.0 L654.4,177.4 L655.0,181.7 L655.6,185.7 L656.2,189.4 L656.8,192.6 L657.5,195.2 L658.1,197.4 L658.7,199.0 L659.3,200.2 L659.9,201.1 L660.6,201.8 L661.2,202.2 L661.8,202.5 L662.4,202.6 L663.0,202.7 L663.7,202.8 L664.3,202.9 L664.9,202.9" fill="none" stroke="#33e033" stroke-width="1.5" stroke-linejoin="round"/>
<path d="M614.0,121.0 C614.6,120.0 616.4,118.3 617.6,115.0 C618.8,111.7 619.8,106.3 621.1,101.0 C622.4,95.7 624.4,87.7 625.2,83.4 C626.0,79.1 625.6,78.9 626.1,75.0 C626.6,71.1 627.6,65.8 628.5,60.0 C629.4,54.2 630.5,45.3 631.3,40.0 C632.1,34.7 632.8,30.6 633.3,28.0 C633.8,25.4 634.1,24.6 634.5,24.4 C634.9,24.2 635.2,24.4 635.8,27.0 C636.3,29.6 637.3,34.5 637.8,40.0 C638.3,45.5 638.3,54.2 638.8,60.0 C639.3,65.8 640.1,70.8 640.6,75.0 C641.1,79.2 641.1,80.7 641.8,85.0 C642.4,89.3 643.5,94.4 644.5,101.0 C645.5,107.6 646.8,117.6 648.0,124.4 C649.2,131.2 650.5,137.1 651.5,142.0 C652.5,146.9 653.1,149.8 653.9,153.7 C654.7,157.6 655.4,161.5 656.2,165.4 C657.0,169.3 657.7,173.2 658.5,177.1 C659.3,181.0 660.0,185.1 660.9,188.8 C661.8,192.5 663.1,197.2 663.8,199.3 C664.5,201.5 664.8,201.3 665.0,201.7" fill="none" stroke="#c0181c" stroke-width="1.7" stroke-linejoin="round" stroke-linecap="round"/>
<line x1="716.5" y1="194.5" x2="700.8" y2="215.5" stroke="#1a1a1a" stroke-width="1.5"/>
<path d="M700.8,215.5 L703.2,207.3 L708.0,210.9 Z" fill="#1a1a1a"/>
<text x="862.0" y="25.3" font-family='"Liberation Sans", sans-serif' font-weight="bold" font-size="21.97" fill="#ee1218" text-anchor="start" textLength="29.8" lengthAdjust="spacingAndGlyphs" stroke="#ee1218" stroke-width="0.28">(b)</text>
<text x="862.6" y="62.4" font-family='"Liberation Sans", sans-serif' font-weight="bold" font-size="20.59" fill="#ee1218" text-anchor="start" textLength="35.2" lengthAdjust="spacingAndGlyphs" stroke="#ee1218" stroke-width="0.28">350</text>
<text x="906.2" y="53.5" font-family='"Liberation Sans", sans-serif' font-weight="bold" font-size="11.58" fill="#ee1218" text-anchor="start" textLength="12.1" lengthAdjust="spacingAndGlyphs" stroke="#ee1218" stroke-width="0.18">O</text>
<text x="918.5" y="62.4" font-family='"Liberation Sans", sans-serif' font-weight="bold" font-size="18.93" fill="#ee1218" text-anchor="start" textLength="15.6" lengthAdjust="spacingAndGlyphs" stroke="#ee1218" stroke-width="0.28">C</text>
<text x="765.2" y="97.1" font-family='"Liberation Serif", serif' font-weight="bold" font-size="19.03" fill="#1a1a1a" text-anchor="start" textLength="9.6" lengthAdjust="spacingAndGlyphs" stroke="#1a1a1a" stroke-width="0.28">b</text>
<text x="780.3" y="97.1" font-family='"Liberation Sans", sans-serif' font-weight="bold" font-size="17.09" fill="#1a1a1a" text-anchor="start" textLength="35.0" lengthAdjust="spacingAndGlyphs" stroke="#1a1a1a" stroke-width="0.27">SnS</text>
<text x="819.8" y="97.4" font-family='"Liberation Sans", sans-serif' font-weight="bold" font-size="17.73" fill="#1a1a1a" text-anchor="start" textLength="7.2" lengthAdjust="spacingAndGlyphs" stroke="#1a1a1a" stroke-width="0.28">;</text>
<text x="835.6" y="97.1" font-family='"Liberation Serif", serif' font-weight="bold" font-size="17.33" fill="#1a1aee" text-anchor="start" textLength="7.6" lengthAdjust="spacingAndGlyphs" stroke="#1a1aee" stroke-width="0.27">a</text>
<text x="854.6" y="97.1" font-family='"Liberation Sans", sans-serif' font-weight="bold" font-size="17.09" fill="#1a1aee" text-anchor="start" textLength="48.2" lengthAdjust="spacingAndGlyphs" stroke="#1a1aee" stroke-width="0.27">CZTS</text>
<text x="901.3" y="97.4" font-family='"Liberation Sans", sans-serif' font-weight="bold" font-size="17.73" fill="#1a1a1a" text-anchor="start" textLength="10.2" lengthAdjust="spacingAndGlyphs" stroke="#1a1a1a" stroke-width="0.28">;</text>
<text x="764.8" y="122.8" font-family='"Liberation Serif", serif' font-weight="bold" font-size="17.95" fill="#1a1a1a" text-anchor="start" textLength="8.0" lengthAdjust="spacingAndGlyphs" stroke="#1a1a1a" stroke-width="0.28">e</text>
<text x="778.7" y="122.8" font-family='"Liberation Sans", sans-serif' font-weight="bold" font-size="17.09" fill="#1a1a1a" text-anchor="start" textLength="21.6" lengthAdjust="spacingAndGlyphs" stroke="#1a1a1a" stroke-width="0.27">Cu</text>
<text x="801.7" y="132.0" font-family='"Liberation Sans", sans-serif' font-weight="bold" font-size="15.47" fill="#1a1a1a" text-anchor="start" textLength="28.5" lengthAdjust="spacingAndGlyphs" stroke="#1a1a1a" stroke-width="0.24">2-x</text>
<text x="831.7" y="122.9" font-family='"Liberation Sans", sans-serif' font-weight="bold" font-size="17.23" fill="#1a1a1a" text-anchor="start" textLength="16.8" lengthAdjust="spacingAndGlyphs" stroke="#1a1a1a" stroke-width="0.27">S;</text>
<text x="854.0" y="123.0" font-family='"Liberation Serif", serif' font-weight="bold" font-size="17.9" fill="#1a1a1a" text-anchor="start" textLength="5.5" lengthAdjust="spacingAndGlyphs" stroke="#1a1a1a" stroke-width="0.28">f</text>
<text x="866.2" y="122.8" font-family='"Liberation Sans", sans-serif' font-weight="bold" font-size="17.09" fill="#1a1a1a" text-anchor="start" textLength="24.4" lengthAdjust="spacingAndGlyphs" stroke="#1a1a1a" stroke-width="0.27">Cu</text>
<text x="890.8" y="132.0" font-family='"Liberation Sans", sans-serif' font-weight="bold" font-size="15.47" fill="#1a1a1a" text-anchor="start" textLength="9.4" lengthAdjust="spacingAndGlyphs" stroke="#1a1a1a" stroke-width="0.24">2</text>
<circle cx="907.7" cy="118.9" r="5.3" fill="#111"/>
<text x="912.9" y="123.0" font-family='"Liberation Sans", sans-serif' font-weight="bold" font-size="16.97" fill="#1a1a1a" text-anchor="start" textLength="10.0" lengthAdjust="spacingAndGlyphs" stroke="#1a1a1a" stroke-width="0.26">;</text>
<text x="764.9" y="162.8" font-family='"Liberation Serif", serif' font-weight="bold" font-size="19.35" fill="#1a1a1a" text-anchor="start" textLength="8.8" lengthAdjust="spacingAndGlyphs" stroke="#1a1a1a" stroke-width="0.28">g</text>
<text x="783.9" y="162.6" font-family='"Liberation Serif", serif' font-weight="bold" font-size="19.88" fill="#1a1a1a" text-anchor="start" textLength="20.9" lengthAdjust="spacingAndGlyphs" stroke="#1a1a1a" stroke-width="0.28">Cu</text>
<text x="805.7" y="166.6" font-family='"Liberation Serif", serif' font-weight="bold" font-size="14.2" fill="#1a1a1a" text-anchor="start" textLength="8.4" lengthAdjust="spacingAndGlyphs" stroke="#1a1a1a" stroke-width="0.22">2</text>
<text x="815.7" y="162.6" font-family='"Liberation Serif", serif' font-weight="bold" font-size="19.94" fill="#1a1a1a" text-anchor="start" textLength="35.9" lengthAdjust="spacingAndGlyphs" stroke="#1a1a1a" stroke-width="0.28">SnS</text>
<text x="852.2" y="167.7" font-family='"Liberation Serif", serif' font-weight="bold" font-size="15.62" fill="#1a1a1a" text-anchor="start" textLength="7.9" lengthAdjust="spacingAndGlyphs" stroke="#1a1a1a" stroke-width="0.24">3</text>
<text transform="translate(570.4,131.1) rotate(-90)" x="0" y="0" font-family='"Liberation Sans", sans-serif' font-weight="bold" font-size="15.25" fill="#1a1a1a" text-anchor="start" textLength="24.9" lengthAdjust="spacingAndGlyphs" stroke="#1a1a1a" stroke-width="0.24">187</text>
<text x="561.4" y="149.5" font-family='"Liberation Serif", serif' font-weight="bold" font-size="17.9" fill="#1a1a1a" text-anchor="start" textLength="9.9" lengthAdjust="spacingAndGlyphs" stroke="#1a1a1a" stroke-width="0.28">b</text>
<text transform="translate(593.3,136.8) rotate(-90)" x="0" y="0" font-family='"Liberation Sans", sans-serif' font-weight="bold" font-size="16.19" fill="#1a1a1a" text-anchor="start" textLength="24.7" lengthAdjust="spacingAndGlyphs" stroke="#1a1a1a" stroke-width="0.25">221</text>
<text x="579.1" y="153.3" font-family='"Liberation Serif", serif' font-weight="bold" font-size="17.33" fill="#1a1a1a" text-anchor="start" textLength="9.8" lengthAdjust="spacingAndGlyphs" stroke="#1a1a1a" stroke-width="0.27">b</text>
<text transform="translate(619.1,87.2) rotate(-90)" x="0" y="0" font-family='"Liberation Sans", sans-serif' font-weight="bold" font-size="17.35" fill="#1a1a1a" text-anchor="start" textLength="29.2" lengthAdjust="spacingAndGlyphs" stroke="#1a1a1a" stroke-width="0.27">306</text>
<text transform="translate(617.1,111.8) rotate(-90)" x="0" y="0" font-family='"Liberation Serif", serif' font-weight="bold" font-size="11.17" fill="#1a1a1a" text-anchor="start" textLength="13.9" lengthAdjust="spacingAndGlyphs" stroke="#1a1a1a" stroke-width="0.17">g</text>
<text x="629.6" y="21.7" font-family='"Liberation Serif", serif' font-weight="bold" font-size="19.0" fill="#1a1aee" text-anchor="start" textLength="8.7" lengthAdjust="spacingAndGlyphs" stroke="#1a1aee" stroke-width="0.28">a</text>
<text x="651.1" y="22.4" font-family='"Liberation Sans", sans-serif' font-weight="bold" font-size="15.23" fill="#1a1aee" text-anchor="start" textLength="24.9" lengthAdjust="spacingAndGlyphs" stroke="#1a1aee" stroke-width="0.24">337</text>
<text transform="translate(665.2,128.8) rotate(-90)" x="0" y="0" font-family='"Liberation Sans", sans-serif' font-weight="bold" font-size="14.67" fill="#1a1aee" text-anchor="start" textLength="27.5" lengthAdjust="spacingAndGlyphs" stroke="#1a1aee" stroke-width="0.23">370</text>
<text x="654.4" y="143.1" font-family='"Liberation Serif", serif' font-weight="bold" font-size="21.71" fill="#1a1aee" text-anchor="start" textLength="8.7" lengthAdjust="spacingAndGlyphs" stroke="#1a1aee" stroke-width="0.28">a</text>
<text transform="translate(679.3,161.8) rotate(-90)" x="0" y="0" font-family='"Liberation Sans", sans-serif' font-weight="bold" font-size="14.76" fill="#1a1a1a" text-anchor="start" textLength="26.1" lengthAdjust="spacingAndGlyphs" stroke="#1a1a1a" stroke-width="0.23">412</text>
<text x="669.7" y="187.8" font-family='"Liberation Serif", serif' font-weight="bold" font-size="16.34" fill="#1a1a1a" text-anchor="start" textLength="7.6" lengthAdjust="spacingAndGlyphs" stroke="#1a1a1a" stroke-width="0.25">f</text>
<text transform="translate(723.9,174.2) rotate(-90)" x="0" y="0" font-family='"Liberation Sans", sans-serif' font-weight="bold" font-size="15.26" fill="#1a1a1a" text-anchor="start" textLength="28.0" lengthAdjust="spacingAndGlyphs" stroke="#1a1a1a" stroke-width="0.24">474</text>
<text x="712.7" y="192.4" font-family='"Liberation Serif", serif' font-weight="bold" font-size="19.21" fill="#1a1a1a" text-anchor="start" textLength="9.4" lengthAdjust="spacingAndGlyphs" stroke="#1a1a1a" stroke-width="0.28">e</text>
<text transform="translate(788.9,219.5) rotate(-90)" x="0" y="0" font-family='"Liberation Sans", sans-serif' font-weight="bold" font-size="14.12" fill="#1a1aee" text-anchor="start" textLength="24.7" lengthAdjust="spacingAndGlyphs" stroke="#1a1aee" stroke-width="0.22">666</text>
<text x="780.2" y="236.8" font-family='"Liberation Serif", serif' font-weight="bold" font-size="17.12" fill="#1a1aee" text-anchor="start" textLength="9.1" lengthAdjust="spacingAndGlyphs" stroke="#1a1aee" stroke-width="0.27">a</text>
<rect x="45.0" y="414.5" width="413.8" height="324.0" fill="none" stroke="#262626" stroke-width="1.8"/>
<line x1="136.9" y1="738.5" x2="136.9" y2="744.3" stroke="#222" stroke-width="1.4"/>
<line x1="320.7" y1="738.5" x2="320.7" y2="744.3" stroke="#222" stroke-width="1.4"/>
<line x1="45.0" y1="738.5" x2="45.0" y2="741.7" stroke="#222" stroke-width="1.4"/>
<line x1="228.8" y1="738.5" x2="228.8" y2="741.7" stroke="#222" stroke-width="1.4"/>
<line x1="412.6" y1="738.5" x2="412.6" y2="741.7" stroke="#222" stroke-width="1.4"/>
<text x="116.5" y="768.9" font-family='"Liberation Sans", sans-serif' font-weight="normal" font-size="23.59" fill="#1a1a1a" text-anchor="start" textLength="39.7" lengthAdjust="spacingAndGlyphs" stroke="#1a1a1a" stroke-width="0.35">200</text>
<text x="301.1" y="768.9" font-family='"Liberation Sans", sans-serif' font-weight="normal" font-size="23.59" fill="#1a1a1a" text-anchor="start" textLength="39.0" lengthAdjust="spacingAndGlyphs" stroke="#1a1a1a" stroke-width="0.35">400</text>
<text x="145.2" y="808.6" font-family='"Liberation Sans", sans-serif' font-weight="normal" font-size="24.5" fill="#1a1a1a" text-anchor="start" stroke="#1a1a1a" stroke-width="0.35">Raman Shift (cm</text>
<text x="328.0" y="797.5" font-family='"Liberation Sans", sans-serif' font-weight="normal" font-size="24.05" fill="#1a1a1a" text-anchor="start" textLength="8.7" lengthAdjust="spacingAndGlyphs" stroke="#1a1a1a" stroke-width="0.35">-</text>
<text x="338.8" y="796.6" font-family='"Liberation Sans", sans-serif' font-weight="normal" font-size="23.55" fill="#1a1a1a" text-anchor="start" textLength="7.7" lengthAdjust="spacingAndGlyphs" stroke="#1a1a1a" stroke-width="0.35">1</text>
<text x="351.7" y="808.6" font-family='"Liberation Sans", sans-serif' font-weight="normal" font-size="24.5" fill="#1a1a1a" text-anchor="start" stroke="#1a1a1a" stroke-width="0.35">)</text>
<text transform="translate(19.6,685.7) rotate(-90)" x="0" y="0" font-family='"Liberation Sans", sans-serif' font-weight="normal" font-size="24.5" fill="#1a1a1a" text-anchor="start" textLength="230.3" lengthAdjust="spacingAndGlyphs" stroke="#1a1a1a" stroke-width="0.35">intensity (arb. units)</text>
<path d="M45.0,679.3 C45.8,679.5 48.0,680.4 49.5,680.5 C51.0,680.6 52.4,680.1 54.0,680.0 C55.6,679.9 57.6,679.9 59.4,679.7 C61.2,679.5 62.9,679.0 65.0,679.0 C67.1,679.0 69.8,679.3 71.8,679.7 C73.8,680.1 75.3,680.8 77.0,681.5 C78.7,682.2 80.2,683.3 81.7,684.2 C83.2,685.1 84.3,686.0 86.0,687.0 C87.7,688.0 90.1,689.6 91.6,690.4 C93.1,691.2 93.8,691.4 95.0,692.0 C96.2,692.6 97.5,693.1 99.0,694.1 C100.5,695.1 102.3,696.9 104.0,697.8 C105.7,698.7 107.7,699.5 109.0,699.6 C110.3,699.7 111.2,699.0 112.0,698.5 C112.8,698.0 113.2,697.9 114.0,696.6 C114.8,695.4 115.7,692.6 116.5,691.0 C117.3,689.4 118.2,688.0 118.9,686.7 C119.7,685.4 120.2,683.8 121.0,683.0 C121.8,682.2 123.0,681.7 123.8,681.7 C124.6,681.7 125.2,682.4 126.0,683.0 C126.8,683.6 127.8,684.4 128.8,685.4 C129.8,686.4 130.8,687.9 132.0,689.0 C133.2,690.1 135.0,691.8 136.2,692.1 C137.4,692.4 138.0,691.5 139.0,691.0 C140.0,690.5 141.4,689.8 142.4,689.2 C143.4,688.6 144.0,688.1 145.0,687.5 C146.0,686.9 147.4,686.1 148.6,685.4 C149.8,684.6 150.9,683.9 152.0,683.0 C153.1,682.1 154.1,680.8 155.0,680.0 C155.9,679.2 156.5,678.2 157.3,678.0 C158.1,677.8 159.2,678.1 160.0,678.5 C160.8,678.9 161.4,680.0 162.2,680.5 C163.0,681.0 164.0,681.3 165.0,681.5 C166.0,681.7 167.6,681.8 168.4,681.7 C169.2,681.6 169.1,681.9 170.0,680.8 C170.9,679.7 171.9,677.5 173.8,675.0 C175.7,672.5 178.6,669.1 181.3,665.5 C184.0,661.9 187.2,657.3 190.0,653.5 C192.8,649.7 195.6,646.1 198.1,642.6 C200.6,639.1 202.5,636.0 205.0,632.2 C207.5,628.4 210.7,624.0 213.2,619.8 C215.7,615.6 217.8,611.6 220.0,606.8 C222.2,602.0 224.5,595.2 226.3,591.2 C228.1,587.2 229.4,585.2 231.0,582.8 C232.6,580.4 234.3,578.5 235.7,576.6 C237.1,574.7 238.5,573.5 239.4,571.2 C240.3,568.9 241.0,564.0 241.3,562.6 C241.6,561.2 241.0,565.0 241.3,562.6 C241.6,560.2 242.4,552.7 243.0,548.0 C243.6,543.3 244.1,540.6 245.0,534.4 C245.9,528.2 247.2,518.8 248.5,511.0 C249.8,503.2 251.2,493.7 252.5,487.5 C253.8,481.3 254.9,477.6 256.0,474.0 C257.1,470.4 258.0,467.8 259.0,466.0 C260.0,464.2 261.0,463.1 261.9,463.1 C262.8,463.1 263.6,464.2 264.5,466.0 C265.4,467.8 266.4,470.4 267.5,474.0 C268.6,477.6 270.2,482.3 271.3,487.5 C272.4,492.7 273.1,498.8 274.0,505.0 C274.9,511.2 276.0,518.8 276.9,525.0 C277.8,531.2 278.6,537.0 279.5,542.0 C280.4,547.0 281.5,551.5 282.6,555.0 C283.7,558.5 284.8,560.5 286.0,563.0 C287.2,565.5 288.8,568.0 290.1,570.0 C291.4,572.0 292.8,573.1 294.0,575.0 C295.2,576.9 296.5,579.0 297.6,581.3 C298.7,583.6 299.6,585.9 300.5,589.0 C301.4,592.1 302.3,596.0 303.2,600.0 C304.1,604.0 305.1,608.3 306.0,613.0 C306.9,617.7 307.9,623.5 308.8,628.2 C309.7,632.9 310.6,636.9 311.5,641.0 C312.4,645.1 313.5,649.1 314.5,652.6 C315.5,656.1 316.6,659.2 317.5,662.0 C318.4,664.8 319.2,668.5 320.1,669.5 C321.0,670.5 322.1,668.5 323.0,668.2 C323.9,667.9 324.5,667.5 325.7,667.6 C326.9,667.7 328.7,668.2 330.0,668.6 C331.3,669.0 332.0,668.9 333.4,670.0 C334.8,671.1 336.7,673.8 338.3,675.0 C339.9,676.2 341.9,677.1 343.1,677.5 C344.4,677.9 344.6,677.2 345.8,677.5 C347.1,677.8 349.4,679.1 350.6,679.3 C351.8,679.5 351.9,679.0 353.2,678.7 C354.4,678.4 356.9,677.7 358.1,677.5 C359.3,677.3 359.0,677.7 360.6,677.5 C362.2,677.3 365.1,676.4 367.5,676.5 C369.9,676.6 372.2,677.9 375.0,678.4 C377.8,678.9 381.5,679.1 384.3,679.3 C387.1,679.4 389.3,679.8 391.8,679.3 C394.3,678.8 396.8,676.6 399.3,676.0 C401.8,675.4 404.9,675.4 406.8,675.6 C408.7,675.9 409.4,676.4 410.6,677.5 C411.8,678.6 412.8,680.5 414.0,682.0 C415.2,683.5 416.4,685.2 418.0,686.8 C419.6,688.4 421.5,690.2 423.7,691.5 C425.9,692.8 428.7,694.0 431.2,694.3 C433.7,694.5 436.2,693.0 438.7,693.0 C441.2,693.0 443.7,694.4 446.2,694.3 C448.7,694.2 451.6,692.9 453.7,692.5 C455.8,692.1 457.7,692.1 458.5,692.0" fill="none" stroke="#1a1a1a" stroke-width="1.8" stroke-linejoin="round" stroke-linecap="round"/>
<path d="M173.6,670.3 L174.8,669.5 L176.1,668.7 L177.3,667.8 L178.5,666.8 L179.7,665.8 L181.0,664.7 L182.2,663.6 L183.4,662.4 L184.7,661.1 L185.9,659.8 L187.1,658.4 L188.3,657.0 L189.6,655.5 L190.8,653.9 L192.0,652.3 L193.3,650.6 L194.5,648.8 L195.7,647.0 L196.9,645.1 L198.2,643.2 L199.4,641.2 L200.6,639.2 L201.9,637.1 L203.1,635.0 L204.3,632.8 L205.5,630.6 L206.8,628.4 L208.0,626.2 L209.2,623.9 L210.4,621.6 L211.7,619.4 L212.9,617.1 L214.1,614.8 L215.4,612.6 L216.6,610.3 L217.8,608.1 L219.0,605.9 L220.3,603.8 L221.5,601.7 L222.7,599.7 L224.0,597.8 L225.2,595.9 L226.4,594.1 L227.6,592.4 L228.9,590.7 L230.1,589.2 L231.3,587.8 L232.6,586.5 L233.8,585.3 L235.0,584.2 L236.2,583.3 L237.5,582.4 L238.7,581.8 L239.9,581.2 L241.2,580.8 L242.4,580.5 L243.6,580.4 L244.8,580.4 L246.1,580.6 L247.3,580.9 L248.5,581.3 L249.8,581.9 L251.0,582.6 L252.2,583.4 L253.4,584.4 L254.7,585.5 L255.9,586.7 L257.1,588.1 L258.4,589.5 L259.6,591.1 L260.8,592.7 L262.0,594.4 L263.3,596.3 L264.5,598.2 L265.7,600.1 L267.0,602.2 L268.2,604.3 L269.4,606.4 L270.6,608.6 L271.9,610.8 L273.1,613.0 L274.3,615.3 L275.6,617.6 L276.8,619.8 L278.0,622.1 L279.2,624.4 L280.5,626.6 L281.7,628.9 L282.9,631.1 L284.1,633.3 L285.4,635.4 L286.6,637.5 L287.8,639.6 L289.1,641.6 L290.3,643.6 L291.5,645.5 L292.7,647.4 L294.0,649.2 L295.2,650.9 L296.4,652.6 L297.7,654.2 L298.9,655.8 L300.1,657.3 L301.3,658.7 L302.6,660.1 L303.8,661.4 L305.0,662.7 L306.3,663.8 L307.5,665.0 L308.7,666.0 L309.9,667.0 L311.2,668.0 L312.4,668.9 L313.6,669.7 L314.9,670.5 L316.1,671.2 L317.3,671.9 L318.5,672.6 L319.8,673.2 L321.0,673.8" fill="none" stroke="#33e033" stroke-width="1.5" stroke-linejoin="round"/>
<path d="M173.6,679.8 L174.8,679.8 L176.1,679.8 L177.3,679.8 L178.5,679.8 L179.7,679.8 L181.0,679.8 L182.2,679.8 L183.4,679.8 L184.7,679.8 L185.9,679.8 L187.1,679.8 L188.3,679.8 L189.6,679.8 L190.8,679.8 L192.0,679.8 L193.3,679.8 L194.5,679.8 L195.7,679.8 L196.9,679.8 L198.2,679.8 L199.4,679.8 L200.6,679.8 L201.9,679.8 L203.1,679.8 L204.3,679.8 L205.5,679.8 L206.8,679.8 L208.0,679.8 L209.2,679.8 L210.4,679.8 L211.7,679.8 L212.9,679.8 L214.1,679.8 L215.4,679.8 L216.6,679.8 L217.8,679.8 L219.0,679.8 L220.3,679.8 L221.5,679.8 L222.7,679.8 L224.0,679.8 L225.2,679.8 L226.4,679.8 L227.6,679.8 L228.9,679.8 L230.1,679.8 L231.3,679.8 L232.6,679.8 L233.8,679.7 L235.0,679.7 L236.2,679.6 L237.5,679.5 L238.7,679.2 L239.9,678.8 L241.2,678.2 L242.4,677.2 L243.6,675.7 L244.8,673.7 L246.1,670.7 L247.3,666.8 L248.5,661.7 L249.8,655.1 L251.0,647.2 L252.2,637.8 L253.4,627.1 L254.7,615.4 L255.9,603.3 L257.1,591.3 L258.4,580.0 L259.6,570.4 L260.8,563.0 L262.0,558.4 L263.3,556.9 L264.5,558.7 L265.7,563.7 L267.0,571.4 L268.2,581.2 L269.4,592.6 L270.6,604.6 L271.9,616.8 L273.1,628.3 L274.3,638.9 L275.6,648.1 L276.8,655.9 L278.0,662.3 L279.2,667.3 L280.5,671.1 L281.7,673.9 L282.9,675.9 L284.1,677.3 L285.4,678.2 L286.6,678.9 L287.8,679.2 L289.1,679.5 L290.3,679.6 L291.5,679.7 L292.7,679.7 L294.0,679.8 L295.2,679.8 L296.4,679.8 L297.7,679.8 L298.9,679.8 L300.1,679.8 L301.3,679.8 L302.6,679.8 L303.8,679.8 L305.0,679.8 L306.3,679.8 L307.5,679.8 L308.7,679.8 L309.9,679.8 L311.2,679.8 L312.4,679.8 L313.6,679.8 L314.9,679.8 L316.1,679.8 L317.3,679.8 L318.5,679.8 L319.8,679.8 L321.0,679.8" fill="none" stroke="#33e033" stroke-width="1.5" stroke-linejoin="round"/>
<path d="M173.6,679.8 L174.8,679.8 L176.1,679.8 L177.3,679.8 L178.5,679.8 L179.7,679.8 L181.0,679.8 L182.2,679.8 L183.4,679.8 L184.7,679.8 L185.9,679.8 L187.1,679.8 L188.3,679.8 L189.6,679.8 L190.8,679.8 L192.0,679.8 L193.3,679.8 L194.5,679.8 L195.7,679.8 L196.9,679.8 L198.2,679.8 L199.4,679.8 L200.6,679.8 L201.9,679.8 L203.1,679.8 L204.3,679.8 L205.5,679.8 L206.8,679.8 L208.0,679.8 L209.2,679.8 L210.4,679.8 L211.7,679.8 L212.9,679.8 L214.1,679.8 L215.4,679.8 L216.6,679.8 L217.8,679.8 L219.0,679.8 L220.3,679.8 L221.5,679.8 L222.7,679.8 L224.0,679.8 L225.2,679.8 L226.4,679.8 L227.6,679.8 L228.9,679.8 L230.1,679.8 L231.3,679.8 L232.6,679.8 L233.8,679.8 L235.0,679.8 L236.2,679.8 L237.5,679.8 L238.7,679.8 L239.9,679.8 L241.2,679.8 L242.4,679.8 L243.6,679.8 L244.8,679.8 L246.1,679.8 L247.3,679.7 L248.5,679.7 L249.8,679.7 L251.0,679.6 L252.2,679.6 L253.4,679.5 L254.7,679.3 L255.9,679.1 L257.1,678.9 L258.4,678.6 L259.6,678.2 L260.8,677.7 L262.0,677.1 L263.3,676.4 L264.5,675.4 L265.7,674.3 L267.0,672.9 L268.2,671.2 L269.4,669.3 L270.6,667.1 L271.9,664.5 L273.1,661.6 L274.3,658.4 L275.6,654.8 L276.8,651.0 L278.0,646.9 L279.2,642.6 L280.5,638.1 L281.7,633.6 L282.9,629.1 L284.1,624.7 L285.4,620.5 L286.6,616.6 L287.8,613.1 L289.1,610.2 L290.3,607.8 L291.5,606.1 L292.7,605.1 L294.0,604.8 L295.2,605.3 L296.4,606.5 L297.7,608.4 L298.9,611.0 L300.1,614.1 L301.3,617.7 L302.6,621.7 L303.8,625.9 L305.0,630.4 L306.3,634.9 L307.5,639.4 L308.7,643.9 L309.9,648.1 L311.2,652.1 L312.4,655.9 L313.6,659.4 L314.9,662.5 L316.1,665.3 L317.3,667.7 L318.5,669.9 L319.8,671.7 L321.0,673.3" fill="none" stroke="#33e033" stroke-width="1.5" stroke-linejoin="round"/>
<path d="M173.8,671.4 C175.1,670.1 178.6,667.1 181.3,663.9 C184.0,660.7 187.2,655.8 190.0,652.0 C192.8,648.2 195.6,644.9 198.1,641.4 C200.6,637.9 202.5,634.8 205.0,631.0 C207.5,627.2 210.7,623.0 213.2,618.8 C215.7,614.6 217.8,610.7 220.0,606.0 C222.2,601.3 224.5,594.5 226.3,590.7 C228.1,586.9 229.4,585.2 231.0,583.0 C232.6,580.8 234.3,579.4 235.7,577.6 C237.1,575.8 238.5,574.5 239.4,572.0 C240.3,569.5 240.7,566.6 241.3,562.6 C241.9,558.6 242.4,552.7 243.0,548.0 C243.6,543.3 244.1,540.6 245.0,534.4 C245.9,528.2 247.2,518.8 248.5,511.0 C249.8,503.2 251.2,493.7 252.5,487.5 C253.8,481.3 254.9,477.6 256.0,474.0 C257.1,470.4 258.0,467.8 259.0,466.0 C260.0,464.2 261.0,463.1 261.9,463.1 C262.8,463.1 263.6,464.2 264.5,466.0 C265.4,467.8 266.4,470.4 267.5,474.0 C268.6,477.6 270.2,482.3 271.3,487.5 C272.4,492.7 273.1,498.8 274.0,505.0 C274.9,511.2 276.0,518.8 276.9,525.0 C277.8,531.2 278.6,537.0 279.5,542.0 C280.4,547.0 281.5,551.5 282.6,555.0 C283.7,558.5 284.8,560.5 286.0,563.0 C287.2,565.5 288.8,568.0 290.1,570.0 C291.4,572.0 292.8,573.1 294.0,575.0 C295.2,576.9 296.5,579.0 297.6,581.3 C298.7,583.6 299.6,585.9 300.5,589.0 C301.4,592.1 302.3,596.0 303.2,600.0 C304.1,604.0 305.1,608.3 306.0,613.0 C306.9,617.7 307.9,623.5 308.8,628.2 C309.7,632.9 310.6,636.9 311.5,641.0 C312.4,645.1 313.5,649.1 314.5,652.6 C315.5,656.1 316.6,659.2 317.5,662.0 C318.4,664.8 319.7,668.2 320.1,669.5" fill="none" stroke="#33e033" stroke-width="1.6" stroke-linejoin="round" stroke-linecap="round"/>
<text x="50.8" y="447.1" font-family='"Liberation Sans", sans-serif' font-weight="bold" font-size="21.65" fill="#ee1218" text-anchor="start" textLength="27.9" lengthAdjust="spacingAndGlyphs" stroke="#ee1218" stroke-width="0.28">(c)</text>
<text x="50.9" y="486.1" font-family='"Liberation Sans", sans-serif' font-weight="bold" font-size="23.45" fill="#ee1218" text-anchor="start" textLength="37.7" lengthAdjust="spacingAndGlyphs" stroke="#ee1218" stroke-width="0.28">450</text>
<text x="95.1" y="476.3" font-family='"Liberation Sans", sans-serif' font-weight="bold" font-size="14.69" fill="#ee1218" text-anchor="start" textLength="12.9" lengthAdjust="spacingAndGlyphs" stroke="#ee1218" stroke-width="0.23">O</text>
<text x="108.5" y="486.1" font-family='"Liberation Sans", sans-serif' font-weight="bold" font-size="22.46" fill="#ee1218" text-anchor="start" textLength="15.5" lengthAdjust="spacingAndGlyphs" stroke="#ee1218" stroke-width="0.28">C</text>
<text x="295.0" y="439.8" font-family='"Liberation Sans", sans-serif' font-weight="bold" font-size="18.5" fill="#1a1a1a" text-anchor="start" textLength="12.7" lengthAdjust="spacingAndGlyphs" stroke="#1a1a1a" stroke-width="0.28">b</text>
<text x="313.9" y="439.8" font-family='"Liberation Sans", sans-serif' font-weight="bold" font-size="18.08" fill="#1a1a1a" text-anchor="start" textLength="35.4" lengthAdjust="spacingAndGlyphs" stroke="#1a1a1a" stroke-width="0.28">SnS</text>
<text x="354.9" y="439.9" font-family='"Liberation Sans", sans-serif' font-weight="bold" font-size="17.73" fill="#1a1a1a" text-anchor="start" textLength="8.6" lengthAdjust="spacingAndGlyphs" stroke="#1a1a1a" stroke-width="0.28">;</text>
<text x="371.6" y="439.8" font-family='"Liberation Serif", serif' font-weight="bold" font-size="19.31" fill="#1a1a1a" text-anchor="start" textLength="10.6" lengthAdjust="spacingAndGlyphs" stroke="#1a1a1a" stroke-width="0.28">h</text>
<text x="387.7" y="439.8" font-family='"Liberation Sans", sans-serif' font-weight="bold" font-size="18.08" fill="#1a1a1a" text-anchor="start" textLength="35.3" lengthAdjust="spacingAndGlyphs" stroke="#1a1a1a" stroke-width="0.28">SnS</text>
<text x="425.4" y="447.9" font-family='"Liberation Sans", sans-serif' font-weight="bold" font-size="10.74" fill="#1a1a1a" text-anchor="start" textLength="5.9" lengthAdjust="spacingAndGlyphs" stroke="#1a1a1a" stroke-width="0.17">2</text>
<text x="295.8" y="477.2" font-family='"Liberation Serif", serif' font-weight="bold" font-size="18.79" fill="#1a1aee" text-anchor="start" textLength="8.6" lengthAdjust="spacingAndGlyphs" stroke="#1a1aee" stroke-width="0.28">a</text>
<text x="315.6" y="477.4" font-family='"Liberation Sans", sans-serif' font-weight="bold" font-size="18.08" fill="#1a1aee" text-anchor="start" textLength="49.7" lengthAdjust="spacingAndGlyphs" stroke="#1a1aee" stroke-width="0.28">CZTS</text>
<text x="364.8" y="477.4" font-family='"Liberation Sans", sans-serif' font-weight="bold" font-size="17.73" fill="#1a1a1a" text-anchor="start" textLength="9.1" lengthAdjust="spacingAndGlyphs" stroke="#1a1a1a" stroke-width="0.28">;</text>
<text x="386.8" y="477.4" font-family='"Liberation Serif", serif' font-weight="bold" font-size="19.18" fill="#1a1a1a" text-anchor="start" textLength="5.8" lengthAdjust="spacingAndGlyphs" stroke="#1a1a1a" stroke-width="0.28">f</text>
<text x="397.6" y="477.4" font-family='"Liberation Sans", sans-serif' font-weight="bold" font-size="18.08" fill="#1a1a1a" text-anchor="start" textLength="24.6" lengthAdjust="spacingAndGlyphs" stroke="#1a1a1a" stroke-width="0.28">Cu</text>
<text x="422.4" y="485.5" font-family='"Liberation Sans", sans-serif' font-weight="bold" font-size="20.2" fill="#1a1a1a" text-anchor="start" textLength="11.4" lengthAdjust="spacingAndGlyphs" stroke="#1a1a1a" stroke-width="0.28">2</text>
<text x="432.9" y="478.6" font-family='"Liberation Sans", sans-serif' font-weight="bold" font-size="19.77" fill="#1a1a1a" text-anchor="start" textLength="17.1" lengthAdjust="spacingAndGlyphs" stroke="#1a1a1a" stroke-width="0.28">O</text>
<text transform="translate(255.7,452.3) rotate(-90)" x="0" y="0" font-family='"Liberation Sans", sans-serif' font-weight="bold" font-size="17.63" fill="#1a1aee" text-anchor="start" textLength="29.9" lengthAdjust="spacingAndGlyphs" stroke="#1a1aee" stroke-width="0.27">337</text>
<text x="259.3" y="457.1" font-family='"Liberation Serif", serif' font-weight="bold" font-size="23.59" fill="#1a1aee" text-anchor="start" textLength="10.9" lengthAdjust="spacingAndGlyphs" stroke="#1a1aee" stroke-width="0.28">a</text>
<text transform="translate(234.7,523.8) rotate(-90)" x="0" y="0" font-family='"Liberation Sans", sans-serif' font-weight="bold" font-size="17.07" fill="#1a1a1a" text-anchor="start" textLength="29.9" lengthAdjust="spacingAndGlyphs" stroke="#1a1a1a" stroke-width="0.27">315</text>
<text x="229.8" y="551.6" font-family='"Liberation Serif", serif' font-weight="bold" font-size="19.74" fill="#1a1a1a" text-anchor="start" textLength="9.6" lengthAdjust="spacingAndGlyphs" stroke="#1a1a1a" stroke-width="0.28">h</text>
<text transform="translate(304.0,540.9) rotate(-90)" x="0" y="0" font-family='"Liberation Sans", sans-serif' font-weight="bold" font-size="17.77" fill="#1a1aee" text-anchor="start" textLength="29.9" lengthAdjust="spacingAndGlyphs" stroke="#1a1aee" stroke-width="0.28">370</text>
<text x="296.3" y="560.4" font-family='"Liberation Serif", serif' font-weight="bold" font-size="23.38" fill="#1a1aee" text-anchor="start" textLength="10.9" lengthAdjust="spacingAndGlyphs" stroke="#1a1aee" stroke-width="0.28">a</text>
<text transform="translate(123.2,645.3) rotate(-90)" x="0" y="0" font-family='"Liberation Sans", sans-serif' font-weight="bold" font-size="16.24" fill="#1a1a1a" text-anchor="start" textLength="29.5" lengthAdjust="spacingAndGlyphs" stroke="#1a1a1a" stroke-width="0.25">186</text>
<text x="115.1" y="667.4" font-family='"Liberation Sans", sans-serif' font-weight="bold" font-size="19.32" fill="#1a1a1a" text-anchor="start" textLength="12.1" lengthAdjust="spacingAndGlyphs" stroke="#1a1a1a" stroke-width="0.28">b</text>
<text transform="translate(157.9,633.5) rotate(-90)" x="0" y="0" font-family='"Liberation Sans", sans-serif' font-weight="bold" font-size="16.53" fill="#1a1a1a" text-anchor="start" textLength="26.4" lengthAdjust="spacingAndGlyphs" stroke="#1a1a1a" stroke-width="0.26">220</text>
<text x="154.6" y="661.4" font-family='"Liberation Sans", sans-serif' font-weight="bold" font-size="17.55" fill="#1a1a1a" text-anchor="start" textLength="12.2" lengthAdjust="spacingAndGlyphs" stroke="#1a1a1a" stroke-width="0.27">b</text>
<text transform="translate(417.4,633.3) rotate(-90)" x="0" y="0" font-family='"Liberation Sans", sans-serif' font-weight="bold" font-size="15.96" fill="#1a1a1a" text-anchor="start" textLength="28.2" lengthAdjust="spacingAndGlyphs" stroke="#1a1a1a" stroke-width="0.25">492</text>
<text x="405.5" y="657.4" font-family='"Liberation Serif", serif' font-weight="bold" font-size="18.89" fill="#1a1a1a" text-anchor="start" textLength="7.2" lengthAdjust="spacingAndGlyphs" stroke="#1a1a1a" stroke-width="0.28">f</text>
<rect x="556.7" y="414.2" width="398.6" height="309.9" fill="none" stroke="#262626" stroke-width="1.8"/>
<line x1="645.3" y1="724.1" x2="645.3" y2="729.9" stroke="#222" stroke-width="1.4"/>
<line x1="822.4" y1="724.1" x2="822.4" y2="729.9" stroke="#222" stroke-width="1.4"/>
<line x1="556.7" y1="724.1" x2="556.7" y2="727.3" stroke="#222" stroke-width="1.4"/>
<line x1="733.8" y1="724.1" x2="733.8" y2="727.3" stroke="#222" stroke-width="1.4"/>
<line x1="910.9" y1="724.1" x2="910.9" y2="727.3" stroke="#222" stroke-width="1.4"/>
<text x="624.5" y="753.1" font-family='"Liberation Sans", sans-serif' font-weight="normal" font-size="23.73" fill="#1a1a1a" text-anchor="start" textLength="38.9" lengthAdjust="spacingAndGlyphs" stroke="#1a1a1a" stroke-width="0.35">200</text>
<text x="803.5" y="753.1" font-family='"Liberation Sans", sans-serif' font-weight="normal" font-size="23.73" fill="#1a1a1a" text-anchor="start" textLength="38.3" lengthAdjust="spacingAndGlyphs" stroke="#1a1a1a" stroke-width="0.35">400</text>
<text x="660.0" y="788.0" font-family='"Liberation Sans", sans-serif' font-weight="normal" font-size="23.6" fill="#1a1a1a" text-anchor="start" stroke="#1a1a1a" stroke-width="0.35">Raman Shift (cm</text>
<text x="836.0" y="777.3" font-family='"Liberation Sans", sans-serif' font-weight="normal" font-size="22.98" fill="#1a1a1a" text-anchor="start" textLength="8.4" lengthAdjust="spacingAndGlyphs" stroke="#1a1a1a" stroke-width="0.35">-</text>
<text x="846.5" y="776.4" font-family='"Liberation Sans", sans-serif' font-weight="normal" font-size="22.64" fill="#1a1a1a" text-anchor="start" textLength="7.4" lengthAdjust="spacingAndGlyphs" stroke="#1a1a1a" stroke-width="0.35">1</text>
<text x="858.9" y="788.0" font-family='"Liberation Sans", sans-serif' font-weight="normal" font-size="23.6" fill="#1a1a1a" text-anchor="start" stroke="#1a1a1a" stroke-width="0.35">)</text>
<text transform="translate(518.7,673.8) rotate(-90)" x="0" y="0" font-family='"Liberation Sans", sans-serif' font-weight="normal" font-size="25.0" fill="#1a1a1a" text-anchor="start" textLength="221.6" lengthAdjust="spacingAndGlyphs" stroke="#1a1a1a" stroke-width="0.35">Intensity (arb. units)</text>
<line x1="676.0" y1="684.2" x2="825.5" y2="684.2" stroke="#33e033" stroke-width="1.5"/>
<path d="M676.0,666.0 L677.2,665.2 L678.5,664.4 L679.7,663.5 L681.0,662.6 L682.2,661.7 L683.5,660.7 L684.7,659.7 L686.0,658.7 L687.2,657.6 L688.5,656.5 L689.7,655.4 L691.0,654.3 L692.2,653.1 L693.4,651.9 L694.7,650.8 L695.9,649.6 L697.2,648.4 L698.4,647.2 L699.7,646.1 L700.9,644.9 L702.2,643.8 L703.4,642.8 L704.7,641.8 L705.9,640.9 L707.1,640.0 L708.4,639.3 L709.6,638.6 L710.9,638.1 L712.1,637.7 L713.4,637.4 L714.6,637.2 L715.9,637.2 L717.1,637.3 L718.4,637.5 L719.6,637.9 L720.9,638.4 L722.1,639.0 L723.3,639.7 L724.6,640.5 L725.8,641.4 L727.1,642.4 L728.3,643.4 L729.6,644.5 L730.8,645.6 L732.1,646.7 L733.3,647.9 L734.6,649.1 L735.8,650.3 L737.0,651.5 L738.3,652.6 L739.5,653.8 L740.8,655.0 L742.0,656.1 L743.3,657.2 L744.5,658.3 L745.8,659.3 L747.0,660.3 L748.3,661.3 L749.5,662.2 L750.8,663.2 L752.0,664.0 L753.2,664.9 L754.5,665.7 L755.7,666.5 L757.0,667.2 L758.2,668.0 L759.5,668.6 L760.7,669.3 L762.0,669.9 L763.2,670.5 L764.5,671.1 L765.7,671.6 L766.9,672.1 L768.2,672.6 L769.4,673.1 L770.7,673.5 L771.9,674.0 L773.2,674.4 L774.4,674.7 L775.7,675.1 L776.9,675.4 L778.2,675.8 L779.4,676.1 L780.6,676.4 L781.9,676.6 L783.1,676.9 L784.4,677.1 L785.6,677.4 L786.9,677.6 L788.1,677.8 L789.4,678.0 L790.6,678.2 L791.9,678.4 L793.1,678.6 L794.4,678.7 L795.6,678.9 L796.8,679.1 L798.1,679.2 L799.3,679.3 L800.6,679.5 L801.8,679.6 L803.1,679.7 L804.3,679.8 L805.6,679.9 L806.8,680.1 L808.1,680.2 L809.3,680.3 L810.5,680.4 L811.8,680.4 L813.0,680.5 L814.3,680.6 L815.5,680.7 L816.8,680.8 L818.0,680.9 L819.3,680.9 L820.5,681.0 L821.8,681.1 L823.0,681.1 L824.3,681.2 L825.5,681.3" fill="none" stroke="#33e033" stroke-width="1.5" stroke-linejoin="round"/>
<path d="M676.0,682.6 L677.2,682.5 L678.5,682.5 L679.7,682.4 L681.0,682.3 L682.2,682.2 L683.5,682.1 L684.7,682.1 L686.0,682.0 L687.2,681.9 L688.5,681.8 L689.7,681.6 L691.0,681.5 L692.2,681.4 L693.4,681.2 L694.7,681.1 L695.9,680.9 L697.2,680.7 L698.4,680.5 L699.7,680.3 L700.9,680.1 L702.2,679.8 L703.4,679.5 L704.7,679.2 L705.9,678.9 L707.1,678.5 L708.4,678.0 L709.6,677.5 L710.9,677.0 L712.1,676.4 L713.4,675.6 L714.6,674.8 L715.9,673.9 L717.1,672.9 L718.4,671.7 L719.6,670.4 L720.9,668.9 L722.1,667.2 L723.3,665.4 L724.6,663.4 L725.8,661.2 L727.1,658.8 L728.3,656.3 L729.6,653.6 L730.8,650.8 L732.1,648.0 L733.3,645.2 L734.6,642.7 L735.8,640.5 L737.0,638.7 L738.3,637.6 L739.5,637.2 L740.8,637.5 L742.0,638.6 L743.3,640.3 L744.5,642.4 L745.8,645.0 L747.0,647.7 L748.3,650.5 L749.5,653.3 L750.8,656.0 L752.0,658.6 L753.2,661.0 L754.5,663.2 L755.7,665.2 L757.0,667.1 L758.2,668.7 L759.5,670.2 L760.7,671.6 L762.0,672.8 L763.2,673.8 L764.5,674.7 L765.7,675.6 L766.9,676.3 L768.2,676.9 L769.4,677.5 L770.7,678.0 L771.9,678.4 L773.2,678.8 L774.4,679.2 L775.7,679.5 L776.9,679.8 L778.2,680.1 L779.4,680.3 L780.6,680.5 L781.9,680.7 L783.1,680.9 L784.4,681.1 L785.6,681.2 L786.9,681.4 L788.1,681.5 L789.4,681.6 L790.6,681.7 L791.9,681.8 L793.1,681.9 L794.4,682.0 L795.6,682.1 L796.8,682.2 L798.1,682.3 L799.3,682.4 L800.6,682.4 L801.8,682.5 L803.1,682.6 L804.3,682.6 L805.6,682.7 L806.8,682.7 L808.1,682.8 L809.3,682.8 L810.5,682.9 L811.8,682.9 L813.0,683.0 L814.3,683.0 L815.5,683.0 L816.8,683.1 L818.0,683.1 L819.3,683.2 L820.5,683.2 L821.8,683.2 L823.0,683.2 L824.3,683.3 L825.5,683.3" fill="none" stroke="#33e033" stroke-width="1.5" stroke-linejoin="round"/>
<path d="M676.0,679.5 L677.2,679.3 L678.5,679.2 L679.7,679.0 L681.0,678.9 L682.2,678.7 L683.5,678.6 L684.7,678.4 L686.0,678.2 L687.2,678.1 L688.5,677.9 L689.7,677.7 L691.0,677.5 L692.2,677.2 L693.4,677.0 L694.7,676.8 L695.9,676.5 L697.2,676.3 L698.4,676.0 L699.7,675.7 L700.9,675.4 L702.2,675.0 L703.4,674.7 L704.7,674.3 L705.9,673.9 L707.1,673.5 L708.4,673.1 L709.6,672.6 L710.9,672.1 L712.1,671.6 L713.4,671.1 L714.6,670.5 L715.9,669.8 L717.1,669.2 L718.4,668.4 L719.6,667.7 L720.9,666.8 L722.1,665.9 L723.3,665.0 L724.6,663.9 L725.8,662.8 L727.1,661.5 L728.3,660.2 L729.6,658.7 L730.8,657.1 L732.1,655.3 L733.3,653.3 L734.6,651.1 L735.8,648.8 L737.0,646.1 L738.3,643.2 L739.5,640.0 L740.8,636.4 L742.0,632.4 L743.3,628.0 L744.5,623.2 L745.8,617.8 L747.0,611.9 L748.3,605.5 L749.5,598.4 L750.8,590.8 L752.0,582.5 L753.2,573.6 L754.5,564.2 L755.7,554.4 L757.0,544.3 L758.2,534.1 L759.5,524.2 L760.7,515.0 L762.0,506.8 L763.2,500.2 L764.5,495.5 L765.7,493.1 L766.9,493.1 L768.2,495.6 L769.4,500.4 L770.7,507.1 L771.9,515.3 L773.2,524.6 L774.4,534.5 L775.7,544.6 L776.9,554.7 L778.2,564.6 L779.4,574.0 L780.6,582.8 L781.9,591.1 L783.1,598.7 L784.4,605.7 L785.6,612.2 L786.9,618.0 L788.1,623.4 L789.4,628.2 L790.6,632.6 L791.9,636.5 L793.1,640.1 L794.4,643.3 L795.6,646.2 L796.8,648.8 L798.1,651.2 L799.3,653.4 L800.6,655.3 L801.8,657.1 L803.1,658.7 L804.3,660.2 L805.6,661.6 L806.8,662.8 L808.1,663.9 L809.3,665.0 L810.5,666.0 L811.8,666.9 L813.0,667.7 L814.3,668.5 L815.5,669.2 L816.8,669.9 L818.0,670.5 L819.3,671.1 L820.5,671.6 L821.8,672.2 L823.0,672.7 L824.3,673.1 L825.5,673.5" fill="none" stroke="#33e033" stroke-width="1.5" stroke-linejoin="round"/>
<path d="M676.0,682.5 L677.2,682.5 L678.5,682.5 L679.7,682.4 L681.0,682.4 L682.2,682.4 L683.5,682.3 L684.7,682.3 L686.0,682.2 L687.2,682.2 L688.5,682.2 L689.7,682.1 L691.0,682.1 L692.2,682.0 L693.4,682.0 L694.7,681.9 L695.9,681.9 L697.2,681.8 L698.4,681.7 L699.7,681.7 L700.9,681.6 L702.2,681.6 L703.4,681.5 L704.7,681.4 L705.9,681.4 L707.1,681.3 L708.4,681.2 L709.6,681.1 L710.9,681.0 L712.1,680.9 L713.4,680.8 L714.6,680.8 L715.9,680.7 L717.1,680.5 L718.4,680.4 L719.6,680.3 L720.9,680.2 L722.1,680.1 L723.3,679.9 L724.6,679.8 L725.8,679.7 L727.1,679.5 L728.3,679.4 L729.6,679.2 L730.8,679.0 L732.1,678.8 L733.3,678.6 L734.6,678.4 L735.8,678.2 L737.0,678.0 L738.3,677.7 L739.5,677.5 L740.8,677.2 L742.0,676.9 L743.3,676.6 L744.5,676.3 L745.8,676.0 L747.0,675.6 L748.3,675.2 L749.5,674.8 L750.8,674.4 L752.0,673.9 L753.2,673.4 L754.5,672.8 L755.7,672.2 L757.0,671.6 L758.2,670.9 L759.5,670.2 L760.7,669.3 L762.0,668.5 L763.2,667.5 L764.5,666.5 L765.7,665.3 L766.9,664.1 L768.2,662.8 L769.4,661.3 L770.7,659.7 L771.9,657.9 L773.2,656.0 L774.4,653.8 L775.7,651.5 L776.9,649.0 L778.2,646.2 L779.4,643.2 L780.6,639.9 L781.9,636.4 L783.1,632.5 L784.4,628.4 L785.6,624.1 L786.9,619.6 L788.1,614.8 L789.4,610.0 L790.6,605.3 L791.9,600.7 L793.1,596.4 L794.4,592.6 L795.6,589.6 L796.8,587.4 L798.1,586.3 L799.3,586.2 L800.6,587.2 L801.8,589.3 L803.1,592.2 L804.3,595.8 L805.6,600.1 L806.8,604.6 L808.1,609.4 L809.3,614.2 L810.5,618.9 L811.8,623.5 L813.0,627.9 L814.3,632.0 L815.5,635.9 L816.8,639.4 L818.0,642.8 L819.3,645.8 L820.5,648.6 L821.8,651.2 L823.0,653.5 L824.3,655.7 L825.5,657.6" fill="none" stroke="#33e033" stroke-width="1.5" stroke-linejoin="round"/>
<path d="M557.0,673.3 L557.5,674.0 L558.3,675.0 L559.3,675.9 L560.3,676.2 L561.2,676.0 L562.3,675.2 L563.5,674.4 L564.5,673.8 L565.5,673.5 L566.8,673.6 L567.8,674.0 L569.0,674.5 L570.0,674.8 L571.1,675.2 L572.2,675.5 L573.2,675.4 L574.2,675.0 L575.1,674.5 L576.0,674.1 L577.0,673.9 L578.0,673.9 L579.0,673.7 L580.0,673.6 L581.0,673.6 L582.0,673.8 L583.0,674.4 L584.0,675.0 L585.0,675.5 L586.0,675.9 L586.9,676.2 L587.8,676.3 L588.7,676.3 L589.8,676.4 L590.8,676.6 L592.0,676.7 L593.0,676.9 L594.2,677.0 L595.3,677.4 L596.4,678.1 L597.2,678.8 L597.9,679.6 L598.6,680.5 L599.3,681.3 L600.0,682.1 L600.7,682.8 L601.4,683.3 L602.1,683.9 L602.8,684.5 L603.5,685.5 L604.2,686.4 L605.2,687.5 L606.1,688.1 L607.1,688.7 L608.0,689.3 L609.0,690.1 L610.0,691.0 L611.0,691.7 L611.9,692.2 L612.9,692.2 L613.9,691.7 L615.0,691.1 L616.1,690.9 L617.3,690.9 L618.6,691.3 L619.7,691.6 L620.9,691.8 L622.0,691.9 L623.0,692.2 L624.1,692.9 L625.1,693.8 L626.1,694.1 L626.8,693.6 L627.5,692.5 L628.2,691.2 L629.0,689.9 L629.6,689.0 L630.2,687.9 L630.8,686.9 L631.5,685.9 L632.1,685.1 L632.6,684.7 L633.4,685.1 L634.1,686.3 L635.0,687.5 L635.9,688.2 L637.0,689.1 L638.0,689.7 L639.0,689.8 L639.7,689.3 L640.2,688.5 L640.8,687.4 L641.4,686.4 L642.0,685.4 L642.7,684.5 L643.4,683.6 L644.1,682.8 L644.9,682.0 L645.5,681.5 L646.7,681.0 L648.0,681.1 L648.9,681.6 L649.9,682.4 L650.9,682.9 L651.9,682.8 L652.6,682.2 L653.2,681.2 L653.8,680.1 L654.4,678.9 L655.0,677.9 L655.8,676.9 L656.7,676.0 L657.6,675.1 L658.4,674.4 L659.3,673.6 L660.1,672.8 L661.0,672.1 L661.9,671.5 L662.9,670.8 L663.9,670.2 L664.8,669.9 L665.9,670.1 L666.9,670.5 L668.0,670.9 L669.1,671.3 L670.2,671.7 L671.3,671.7 L672.3,671.2 L673.1,670.3 L674.0,669.6 L675.3,668.9 L676.4,668.4 L676.8,667.6 L677.1,666.7 L677.4,665.5 L678.0,664.0 L678.3,663.2 L678.7,662.3 L679.1,661.3 L679.5,660.3 L679.9,659.2 L680.4,658.1 L680.9,657.1 L681.4,656.0 L682.0,655.0 L682.5,654.1 L683.1,653.3 L683.6,652.5 L684.2,651.8 L684.8,651.0 L685.5,650.2 L686.1,649.3 L686.8,648.4 L687.5,647.4 L688.2,646.4 L688.7,645.6 L689.2,644.8 L689.7,644.0 L690.3,643.1 L690.8,642.2 L691.4,641.2 L692.0,640.3 L692.6,639.3 L693.1,638.3 L693.7,637.4 L694.3,636.5 L694.8,635.6 L695.4,634.8 L695.9,633.9 L696.4,633.2 L697.1,632.2 L697.8,631.2 L698.5,630.3 L699.2,629.5 L699.8,628.7 L700.4,628.0 L701.1,627.2 L701.7,626.5 L702.3,625.7 L703.0,624.9 L703.6,624.1 L704.3,623.4 L704.9,622.6 L705.5,621.9 L706.1,621.2 L706.7,620.5 L707.4,619.6 L708.1,618.8 L708.8,617.8 L709.6,616.7 L710.1,616.0 L710.6,615.2 L711.2,614.4 L711.7,613.6 L712.3,612.8 L712.9,611.9 L713.5,611.0 L714.1,610.0 L714.8,609.1 L715.4,608.1 L716.0,607.2 L716.6,606.3 L717.2,605.3 L717.8,604.4 L718.4,603.5 L719.0,602.6 L719.5,601.8 L720.1,600.9 L720.7,600.0 L721.3,599.1 L721.8,598.2 L722.4,597.4 L722.9,596.6 L723.5,595.7 L724.0,594.9 L724.6,594.0 L725.1,593.2 L725.6,592.3 L726.2,591.4 L726.7,590.5 L727.3,589.6 L727.8,588.6 L728.3,587.8 L728.7,586.9 L729.2,586.0 L729.7,585.2 L730.1,584.3 L730.6,583.3 L731.1,582.4 L731.5,581.5 L732.0,580.6 L732.5,579.6 L732.9,578.7 L733.4,577.7 L733.8,576.8 L734.3,575.8 L734.7,574.9 L735.2,574.0 L735.6,573.0 L736.0,572.1 L736.4,571.1 L736.9,570.1 L737.3,569.1 L737.7,568.0 L738.1,567.0 L738.5,565.9 L739.0,564.9 L739.4,563.9 L739.8,562.8 L740.1,561.8 L740.5,560.8 L740.9,559.9 L741.3,558.9 L741.6,558.0 L742.0,557.2 L742.4,556.4 L742.7,555.6 L743.3,554.3 L743.9,553.3 L744.5,552.3 L745.0,551.5 L745.6,550.8 L746.1,550.0 L746.6,549.2 L747.1,548.3 L747.6,547.3 L748.0,546.5 L748.3,545.7 L748.7,544.9 L749.0,544.1 L749.4,543.2 L749.7,542.4 L750.0,541.5 L750.4,540.5 L750.7,539.5 L751.0,538.3 L751.4,537.1 L751.7,535.8 L751.9,535.0 L752.1,534.2 L752.3,533.3 L752.5,532.4 L752.7,531.4 L752.9,530.5 L753.1,529.5 L753.3,528.5 L753.5,527.5 L753.7,526.4 L754.0,525.3 L754.2,524.3 L754.4,523.2 L754.6,522.1 L754.8,521.0 L755.0,519.9 L755.2,518.7 L755.3,517.6 L755.5,516.5 L755.7,515.4 L755.9,514.3 L756.0,513.4 L756.2,512.4 L756.3,511.5 L756.5,510.5 L756.6,509.5 L756.8,508.6 L756.9,507.6 L757.0,506.6 L757.2,505.6 L757.3,504.6 L757.4,503.6 L757.5,502.6 L757.7,501.6 L757.8,500.6 L757.9,499.6 L758.0,498.6 L758.2,497.5 L758.3,496.5 L758.4,495.5 L758.6,494.5 L758.7,493.5 L758.8,492.5 L758.9,491.5 L759.1,490.5 L759.2,489.5 L759.3,488.5 L759.5,487.4 L759.6,486.3 L759.8,485.2 L759.9,484.1 L760.0,483.0 L760.2,481.9 L760.3,480.8 L760.4,479.7 L760.6,478.5 L760.7,477.4 L760.9,476.3 L761.0,475.2 L761.1,474.2 L761.3,473.1 L761.4,472.1 L761.5,471.0 L761.7,470.1 L761.8,469.1 L762.0,468.2 L762.1,467.3 L762.2,466.4 L762.4,465.6 L762.5,464.8 L762.8,463.3 L763.0,461.8 L763.3,460.4 L763.6,459.1 L763.9,457.9 L764.1,456.7 L764.4,455.7 L764.7,454.9 L765.0,454.2 L765.3,453.6 L765.5,453.3 L765.8,453.2 L766.1,453.3 L766.3,453.6 L766.6,454.2 L766.8,454.9 L767.1,455.7 L767.3,456.7 L767.6,457.9 L767.9,459.1 L768.2,460.4 L768.5,461.8 L768.8,463.3 L769.1,464.8 L769.3,465.5 L769.4,466.3 L769.6,467.2 L769.8,468.0 L770.0,468.9 L770.2,469.8 L770.4,470.8 L770.5,471.7 L770.7,472.7 L770.9,473.7 L771.1,474.8 L771.3,475.8 L771.5,476.9 L771.8,477.9 L772.0,479.0 L772.2,480.1 L772.4,481.1 L772.6,482.2 L772.8,483.3 L773.0,484.3 L773.2,485.4 L773.4,486.4 L773.6,487.5 L773.8,488.5 L774.0,489.5 L774.2,490.5 L774.4,491.5 L774.6,492.5 L774.8,493.5 L775.0,494.5 L775.2,495.5 L775.4,496.5 L775.6,497.5 L775.8,498.6 L776.0,499.6 L776.2,500.6 L776.4,501.6 L776.6,502.6 L776.8,503.6 L777.0,504.6 L777.2,505.6 L777.4,506.6 L777.6,507.6 L777.8,508.6 L778.0,509.5 L778.2,510.5 L778.4,511.5 L778.6,512.4 L778.8,513.4 L779.0,514.3 L779.2,515.4 L779.4,516.4 L779.7,517.5 L779.9,518.6 L780.1,519.7 L780.3,520.8 L780.6,521.8 L780.8,522.9 L781.0,524.0 L781.2,525.0 L781.5,526.1 L781.7,527.1 L781.9,528.1 L782.1,529.1 L782.3,530.1 L782.6,531.0 L782.8,531.9 L783.0,532.7 L783.2,533.6 L783.5,534.4 L783.7,535.1 L783.9,535.8 L784.5,537.3 L785.1,538.6 L785.7,539.7 L786.3,540.6 L786.9,541.4 L787.4,542.1 L788.0,542.7 L788.5,543.3 L788.9,544.0 L789.6,545.3 L790.1,546.3 L790.5,547.2 L791.0,548.0 L791.7,549.2 L792.3,550.2 L793.0,550.6 L793.8,550.0 L794.6,548.8 L795.5,548.0 L796.8,548.0 L798.0,548.5 L798.8,548.9 L799.6,549.4 L800.5,550.6 L800.9,551.3 L801.3,552.1 L801.7,553.0 L802.1,554.1 L802.5,555.2 L803.0,556.3 L803.4,557.6 L803.8,558.9 L804.1,559.7 L804.3,560.6 L804.6,561.5 L804.8,562.5 L805.1,563.5 L805.3,564.5 L805.6,565.5 L805.8,566.6 L806.1,567.6 L806.3,568.7 L806.6,569.8 L806.8,571.0 L807.1,572.1 L807.3,573.0 L807.5,574.0 L807.7,575.0 L807.9,576.0 L808.1,577.0 L808.3,578.0 L808.5,579.1 L808.8,580.1 L809.0,581.2 L809.2,582.3 L809.4,583.3 L809.6,584.4 L809.8,585.5 L810.0,586.5 L810.2,587.6 L810.4,588.6 L810.6,589.6 L810.8,590.7 L811.0,591.7 L811.2,592.7 L811.4,593.8 L811.6,594.8 L811.8,595.8 L811.9,596.9 L812.1,597.9 L812.3,598.9 L812.6,599.9 L812.8,601.0 L813.0,602.0 L813.2,603.0 L813.4,604.1 L813.7,605.1 L813.9,606.1 L814.2,607.1 L814.5,608.1 L814.8,609.1 L815.1,610.2 L815.4,611.2 L815.7,612.2 L816.0,613.3 L816.3,614.3 L816.6,615.3 L816.9,616.3 L817.2,617.2 L817.5,618.2 L817.8,619.1 L818.1,620.0 L818.4,620.8 L818.6,621.6 L819.0,622.9 L819.3,624.1 L819.7,625.3 L820.0,626.4 L820.3,627.5 L820.6,628.4 L820.9,629.3 L821.2,630.1 L821.5,630.9 L821.9,631.5 L822.9,632.6 L824.0,632.7 L825.0,633.1 L826.0,633.6 L827.0,634.2 L827.9,634.6 L829.0,635.0 L829.7,635.5 L830.5,636.0 L831.3,636.6 L832.2,637.2 L833.1,637.9 L834.0,638.5 L834.8,639.1 L835.6,639.5 L836.5,639.8 L837.4,640.2 L838.2,640.8 L839.0,641.3 L839.8,641.6 L841.0,642.3 L842.0,642.6 L843.0,642.7 L844.0,642.8 L845.1,642.7 L846.3,642.6 L847.4,642.3 L848.4,642.2 L849.4,642.5 L850.1,642.9 L851.0,643.3 L851.9,643.7 L852.9,644.3 L854.0,645.2 L854.9,645.8 L856.0,646.1 L857.0,645.8 L858.0,645.4 L859.1,645.0 L860.3,644.5 L861.4,644.1 L862.7,644.3 L864.0,645.2 L864.9,646.0 L865.8,647.0 L866.8,647.4 L867.6,647.0 L868.4,646.3 L869.2,645.3 L870.0,644.5 L870.8,643.5 L871.5,642.3 L872.3,641.3 L873.2,640.9 L873.9,641.2 L874.7,641.9 L875.5,642.7 L876.3,643.6 L877.2,644.5 L878.0,644.9 L878.8,645.4 L879.7,646.4 L880.5,647.7 L881.4,648.8 L882.2,649.2 L883.0,649.3 L883.9,648.9 L884.6,648.1 L885.4,647.2 L886.2,646.6 L887.0,646.1 L887.9,645.8 L888.8,645.5 L889.7,644.8 L890.7,644.2 L891.6,643.8 L892.7,643.5 L893.8,643.4 L894.9,643.5 L896.0,643.9 L897.0,644.5 L897.9,644.7 L898.9,644.6 L899.9,644.6 L901.0,644.5 L902.1,644.4 L903.3,644.2 L904.6,644.0 L905.7,644.1 L906.7,644.4 L907.5,645.0 L908.2,645.7 L908.8,646.5 L909.4,647.2 L910.0,647.9 L910.7,648.8 L911.3,649.9 L912.0,651.0 L912.6,651.9 L913.2,652.5 L914.1,652.3 L915.0,651.4 L916.0,650.7 L917.1,650.4 L918.3,650.2 L919.6,650.3 L920.6,650.7 L921.8,651.4 L922.9,652.2 L924.0,652.9 L925.1,653.5 L926.1,654.1 L927.2,654.5 L928.2,655.0 L929.2,655.5 L930.1,656.1 L931.1,656.8 L932.0,657.4 L933.0,658.3 L934.0,659.2 L935.0,660.0 L935.8,660.4 L936.9,660.0 L938.0,659.0 L939.0,658.3 L940.1,657.3 L941.2,656.6 L942.1,656.8 L943.1,657.2 L944.1,657.7 L945.0,658.1 L946.4,658.8 L947.7,658.9 L948.5,658.4 L949.3,657.6 L950.2,656.6 L951.0,655.8 L952.2,655.1 L953.3,654.4 L954.1,654.0" fill="none" stroke="#1a1a1a" stroke-width="1.8" stroke-linejoin="round" stroke-linecap="round"/>
<path d="M676.4,660.6 C677.3,659.7 680.0,657.4 682.0,655.0 C684.0,652.6 685.8,650.0 688.2,646.4 C690.6,642.8 693.9,636.8 696.4,633.2 C698.9,629.6 700.8,627.6 703.0,624.9 C705.2,622.1 706.9,620.6 709.6,616.7 C712.4,612.9 716.5,606.5 719.5,601.8 C722.5,597.1 725.0,593.5 727.8,588.6 C730.5,583.7 733.5,577.6 736.0,572.1 C738.5,566.6 740.8,559.7 742.7,555.6 C744.6,551.5 746.1,550.6 747.6,547.3 C749.1,544.0 750.3,541.3 751.7,535.8 C753.1,530.3 754.6,522.0 755.9,514.3 C757.1,506.6 758.1,497.8 759.2,489.5 C760.3,481.2 761.4,470.9 762.5,464.8 C763.6,458.8 764.7,453.2 765.8,453.2 C766.9,453.2 767.7,458.8 769.1,464.8 C770.5,470.9 772.4,481.2 774.0,489.5 C775.6,497.8 777.4,506.6 779.0,514.3 C780.6,522.0 782.2,530.8 783.9,535.8 C785.5,540.8 787.5,542.1 788.9,544.0 C790.2,545.9 790.9,546.6 792.0,547.0 C793.1,547.4 794.5,546.4 795.5,546.5 C796.5,546.6 797.2,546.8 798.0,547.5 C798.8,548.2 799.5,548.7 800.5,550.6 C801.5,552.5 802.7,555.3 803.8,558.9 C804.9,562.5 806.0,567.1 807.1,572.1 C808.2,577.1 809.3,583.1 810.4,588.6 C811.5,594.1 812.3,599.6 813.7,605.1 C815.1,610.6 817.0,616.7 818.6,621.6 C820.2,626.5 822.5,631.3 823.6,634.8 C824.7,638.2 824.9,641.0 825.2,642.3" fill="none" stroke="#e01c1c" stroke-width="1.8" stroke-linejoin="round" stroke-linecap="round"/>
<line x1="697.2" y1="590.3" x2="737.7" y2="634.0" stroke="#1a1a1a" stroke-width="1.4"/>
<path d="M737.7,634.0 L730.7,630.9 L735.1,626.8 Z" fill="#1a1a1a"/>
<text x="566.2" y="441.2" font-family='"Liberation Sans", sans-serif' font-weight="bold" font-size="20.36" fill="#ee1218" text-anchor="start" textLength="27.3" lengthAdjust="spacingAndGlyphs" stroke="#ee1218" stroke-width="0.28">(d)</text>
<text x="566.6" y="477.4" font-family='"Liberation Sans", sans-serif' font-weight="bold" font-size="19.77" fill="#ee1218" text-anchor="start" textLength="34.0" lengthAdjust="spacingAndGlyphs" stroke="#ee1218" stroke-width="0.28">500</text>
<text x="608.7" y="468.8" font-family='"Liberation Sans", sans-serif' font-weight="bold" font-size="12.85" fill="#ee1218" text-anchor="start" textLength="11.5" lengthAdjust="spacingAndGlyphs" stroke="#ee1218" stroke-width="0.20">O</text>
<text x="620.9" y="477.4" font-family='"Liberation Sans", sans-serif' font-weight="bold" font-size="19.77" fill="#ee1218" text-anchor="start" textLength="14.1" lengthAdjust="spacingAndGlyphs" stroke="#ee1218" stroke-width="0.28">C</text>
<text x="741.6" y="432.1" font-family='"Liberation Sans", sans-serif' font-weight="bold" font-size="16.36" fill="#1a1aee" text-anchor="start" textLength="27.9" lengthAdjust="spacingAndGlyphs" stroke="#1a1aee" stroke-width="0.25">337</text>
<text x="762.3" y="451.0" font-family='"Liberation Serif", serif' font-weight="bold" font-size="21.5" fill="#1a1aee" text-anchor="start" textLength="9.2" lengthAdjust="spacingAndGlyphs" stroke="#1a1aee" stroke-width="0.28">a</text>
<text x="783.1" y="516.2" font-family='"Liberation Sans", sans-serif' font-weight="bold" font-size="15.23" fill="#1a1aee" text-anchor="start" textLength="28.4" lengthAdjust="spacingAndGlyphs" stroke="#1a1aee" stroke-width="0.24">370</text>
<text x="795.3" y="541.0" font-family='"Liberation Serif", serif' font-weight="bold" font-size="19.21" fill="#1a1aee" text-anchor="start" textLength="8.6" lengthAdjust="spacingAndGlyphs" stroke="#1a1aee" stroke-width="0.28">a</text>
<text x="846.1" y="501.4" font-family='"Liberation Serif", serif' font-weight="bold" font-size="23.38" fill="#1a1aee" text-anchor="start" textLength="8.7" lengthAdjust="spacingAndGlyphs" stroke="#1a1aee" stroke-width="0.28">a</text>
<text x="861.8" y="501.4" font-family='"Liberation Serif", serif' font-weight="bold" font-size="21.13" fill="#1a1aee" text-anchor="start" textLength="57.2" lengthAdjust="spacingAndGlyphs" stroke="#1a1aee" stroke-width="0.28">CZTS</text>
<text x="846.3" y="531.6" font-family='"Liberation Serif", serif' font-weight="bold" font-size="19.89" fill="#1a1a1a" text-anchor="start" textLength="8.5" lengthAdjust="spacingAndGlyphs" stroke="#1a1a1a" stroke-width="0.28">g</text>
<text x="860.0" y="531.7" font-family='"Liberation Sans", sans-serif' font-weight="bold" font-size="18.79" fill="#1a1a1a" text-anchor="start" textLength="22.6" lengthAdjust="spacingAndGlyphs" stroke="#1a1a1a" stroke-width="0.28">Cu</text>
<text x="883.8" y="537.3" font-family='"Liberation Sans", sans-serif' font-weight="bold" font-size="14.33" fill="#1a1a1a" text-anchor="start" textLength="10.2" lengthAdjust="spacingAndGlyphs" stroke="#1a1a1a" stroke-width="0.22">2</text>
<text x="894.6" y="531.7" font-family='"Liberation Sans", sans-serif' font-weight="bold" font-size="18.79" fill="#1a1a1a" text-anchor="start" textLength="38.3" lengthAdjust="spacingAndGlyphs" stroke="#1a1a1a" stroke-width="0.28">SnS</text>
<text x="933.6" y="537.4" font-family='"Liberation Sans", sans-serif' font-weight="bold" font-size="14.39" fill="#1a1a1a" text-anchor="start" textLength="9.6" lengthAdjust="spacingAndGlyphs" stroke="#1a1a1a" stroke-width="0.22">3</text>
<text transform="translate(697.5,583.7) rotate(-90)" x="0" y="0" font-family='"Liberation Sans", sans-serif' font-weight="bold" font-size="16.36" fill="#1a1a1a" text-anchor="start" textLength="31.7" lengthAdjust="spacingAndGlyphs" stroke="#1a1a1a" stroke-width="0.25">306</text>
<text x="667.2" y="610.3" font-family='"Liberation Sans", sans-serif' font-weight="bold" font-size="18.22" fill="#1a1a1a" text-anchor="start" textLength="29.7" lengthAdjust="spacingAndGlyphs" stroke="#1a1a1a" stroke-width="0.28">280</text>
<text x="684.8" y="632.1" font-family='"Liberation Serif", serif' font-weight="bold" font-size="17.98" fill="#1a1a1a" text-anchor="start" textLength="9.8" lengthAdjust="spacingAndGlyphs" stroke="#1a1a1a" stroke-width="0.28">g</text>
<rect x="242.0" y="855.5" width="547.7" height="355.1" fill="none" stroke="#262626" stroke-width="1.8"/>
<line x1="363.7" y1="1210.6" x2="363.7" y2="1217.6" stroke="#222" stroke-width="1.4"/>
<line x1="607.1" y1="1210.6" x2="607.1" y2="1217.6" stroke="#222" stroke-width="1.4"/>
<line x1="242.0" y1="1210.6" x2="242.0" y2="1214.4" stroke="#222" stroke-width="1.4"/>
<line x1="485.4" y1="1210.6" x2="485.4" y2="1214.4" stroke="#222" stroke-width="1.4"/>
<line x1="728.8" y1="1210.6" x2="728.8" y2="1214.4" stroke="#222" stroke-width="1.4"/>
<text x="344.8" y="1240.3" font-family='"Liberation Sans", sans-serif' font-weight="normal" font-size="23.31" fill="#1a1a1a" text-anchor="start" textLength="37.1" lengthAdjust="spacingAndGlyphs" stroke="#1a1a1a" stroke-width="0.35">200</text>
<text x="589.2" y="1240.3" font-family='"Liberation Sans", sans-serif' font-weight="normal" font-size="23.31" fill="#1a1a1a" text-anchor="start" textLength="36.4" lengthAdjust="spacingAndGlyphs" stroke="#1a1a1a" stroke-width="0.35">400</text>
<text x="406.6" y="1272.7" font-family='"Liberation Sans", sans-serif' font-weight="normal" font-size="25.0" fill="#1a1a1a" text-anchor="start" stroke="#1a1a1a" stroke-width="0.35">Raman Shift (cm</text>
<text x="593.1" y="1261.4" font-family='"Liberation Sans", sans-serif' font-weight="normal" font-size="24.64" fill="#1a1a1a" text-anchor="start" textLength="8.9" lengthAdjust="spacingAndGlyphs" stroke="#1a1a1a" stroke-width="0.35">-</text>
<text x="604.2" y="1260.5" font-family='"Liberation Sans", sans-serif' font-weight="normal" font-size="24.05" fill="#1a1a1a" text-anchor="start" textLength="7.9" lengthAdjust="spacingAndGlyphs" stroke="#1a1a1a" stroke-width="0.35">1</text>
<text x="617.4" y="1272.7" font-family='"Liberation Sans", sans-serif' font-weight="normal" font-size="25.0" fill="#1a1a1a" text-anchor="start" stroke="#1a1a1a" stroke-width="0.35">)</text>
<text transform="translate(208.6,1121.3) rotate(-90)" x="0" y="0" font-family='"Liberation Sans", sans-serif' font-weight="normal" font-size="25.3" fill="#1a1a1a" text-anchor="start" textLength="214.9" lengthAdjust="spacingAndGlyphs" stroke="#1a1a1a" stroke-width="0.35">Intensity (arb.units)</text>
<path d="M242.0,1156.1 C243.0,1156.8 245.9,1158.7 248.0,1160.0 C250.1,1161.3 251.7,1163.4 254.3,1163.8 C256.9,1164.2 261.0,1162.7 263.6,1162.3 C266.2,1161.9 267.9,1161.8 270.0,1161.5 C272.1,1161.2 274.0,1161.1 276.0,1160.7 C278.0,1160.3 280.2,1159.5 282.0,1159.0 C283.8,1158.5 285.1,1157.5 286.8,1157.6 C288.5,1157.7 290.2,1158.7 292.0,1159.5 C293.8,1160.3 295.6,1161.5 297.6,1162.3 C299.6,1163.0 301.9,1163.5 304.0,1164.0 C306.1,1164.5 306.4,1165.2 310.0,1165.4 C313.6,1165.6 321.3,1165.3 325.5,1165.4 C329.7,1165.5 331.9,1165.7 335.0,1165.8 C338.1,1165.9 341.0,1165.7 344.1,1166.3 C347.2,1166.9 349.8,1168.7 353.4,1169.4 C357.0,1170.1 361.2,1170.7 365.8,1170.7 C370.4,1170.7 375.5,1169.9 381.2,1169.4 C386.9,1168.9 396.0,1168.5 399.8,1167.9 C403.6,1167.3 402.4,1166.9 404.0,1166.0 C405.6,1165.1 407.3,1163.7 409.1,1162.3 C410.9,1160.9 412.9,1159.0 415.0,1157.5 C417.1,1156.0 419.3,1154.2 421.5,1153.0 C423.7,1151.8 425.4,1151.3 428.0,1150.0 C430.6,1148.7 434.2,1146.7 437.0,1145.3 C439.8,1143.9 442.9,1142.5 445.0,1141.5 C447.1,1140.5 448.2,1140.2 449.9,1139.0 C451.6,1137.8 453.4,1136.1 455.0,1134.0 C456.6,1131.9 458.5,1128.8 459.8,1126.5 C461.1,1124.2 461.8,1122.2 462.8,1120.5 C463.8,1118.8 465.0,1117.2 466.0,1116.0 C467.0,1114.8 468.1,1113.9 469.0,1113.6 C469.9,1113.3 470.7,1113.6 471.5,1114.0 C472.3,1114.4 473.1,1115.1 474.0,1116.0 C474.9,1116.9 476.0,1118.4 477.2,1119.5 C478.4,1120.6 479.6,1121.7 481.0,1122.5 C482.4,1123.3 484.3,1123.9 485.8,1124.1 C487.3,1124.3 488.6,1123.9 490.0,1123.5 C491.4,1123.1 493.0,1122.8 494.5,1121.6 C496.0,1120.4 497.2,1119.2 499.1,1116.5 C501.0,1113.8 504.0,1109.8 505.9,1105.1 C507.8,1100.4 509.1,1094.7 510.4,1088.1 C511.7,1081.5 512.8,1073.0 513.8,1065.4 C514.8,1057.8 515.4,1050.3 516.1,1042.7 C516.8,1035.1 517.1,1028.8 517.8,1020.0 C518.5,1011.2 519.4,999.3 520.2,990.0 C521.0,980.7 521.4,976.8 522.5,964.3 C523.6,951.8 525.7,925.4 526.7,915.1 C527.8,904.8 528.3,905.3 528.8,902.5 C529.3,899.7 529.4,898.3 529.8,898.3 C530.1,898.3 530.4,899.7 530.9,902.5 C531.4,905.3 532.1,904.8 533.0,915.1 C533.9,925.4 535.6,951.8 536.5,964.3 C537.4,976.8 537.8,980.7 538.3,990.0 C538.8,999.3 538.9,1011.2 539.4,1020.0 C539.9,1028.8 540.2,1035.1 541.1,1042.7 C542.0,1050.3 543.0,1058.6 544.5,1065.4 C546.0,1072.2 547.9,1078.3 550.2,1083.6 C552.5,1088.9 555.7,1093.0 558.1,1097.2 C560.5,1101.4 563.2,1105.7 564.9,1108.5 C566.6,1111.3 567.1,1111.9 568.3,1114.2 C569.5,1116.5 571.0,1120.3 572.0,1122.5 C573.0,1124.7 573.3,1126.0 574.0,1127.5 C574.7,1129.0 575.2,1129.4 576.2,1131.5 C577.2,1133.6 578.8,1137.1 580.0,1140.0 C581.2,1142.9 582.5,1146.4 583.7,1148.9 C584.9,1151.4 586.0,1153.2 587.0,1155.0 C588.0,1156.8 588.5,1158.7 589.8,1160.0 C591.1,1161.3 593.1,1162.2 595.0,1163.0 C596.9,1163.8 599.0,1164.5 601.0,1165.0 C603.0,1165.5 604.9,1165.9 607.0,1166.3 C609.1,1166.7 611.2,1167.0 613.4,1167.5 C615.6,1168.0 617.9,1168.6 620.0,1169.0 C622.1,1169.4 624.0,1169.7 625.8,1170.0 C627.6,1170.3 629.0,1170.3 631.0,1170.8 C633.0,1171.3 635.8,1172.5 638.1,1173.2 C640.4,1173.9 642.9,1174.4 645.0,1175.0 C647.1,1175.6 648.4,1176.3 650.5,1176.6 C652.6,1176.9 655.7,1176.8 657.8,1177.0 C659.9,1177.2 660.0,1177.8 662.9,1177.9 C665.8,1178.0 670.0,1177.7 675.0,1177.5 C680.0,1177.3 687.1,1176.8 692.9,1177.0 C698.7,1177.2 703.1,1177.9 710.0,1178.5 C716.9,1179.1 727.5,1180.2 734.2,1180.5 C740.9,1180.8 744.9,1180.1 750.0,1180.0 C755.1,1179.9 760.4,1179.9 765.1,1179.7 C769.8,1179.5 773.9,1179.3 778.0,1179.0 C782.1,1178.7 787.6,1178.2 789.5,1178.0" fill="none" stroke="#1a1a1a" stroke-width="1.8" stroke-linejoin="round" stroke-linecap="round"/>
<line x1="288.3" y1="1159.0" x2="288.3" y2="1210" stroke="#1a1a1a" stroke-width="1.6" stroke-dasharray="2.2,2.9"/>
<line x1="425.6" y1="1151.5" x2="425.6" y2="1210" stroke="#1a1a1a" stroke-width="1.6" stroke-dasharray="2.2,2.9"/>
<line x1="469.7" y1="1113.7" x2="469.7" y2="1210" stroke="#1a1a1a" stroke-width="1.6" stroke-dasharray="2.2,2.9"/>
<line x1="530.4" y1="899.0" x2="530.4" y2="1210" stroke="#1a1a1a" stroke-width="1.6" stroke-dasharray="2.2,2.9"/>
<line x1="568.3" y1="1114.2" x2="568.3" y2="1210" stroke="#1a1a1a" stroke-width="1.6" stroke-dasharray="2.2,2.9"/>
<text x="705.2" y="875.4" font-family='"Liberation Sans", sans-serif' font-weight="bold" font-size="24.44" fill="#ee1218" text-anchor="start" textLength="32.8" lengthAdjust="spacingAndGlyphs" stroke="#ee1218" stroke-width="0.28">(e)</text>
<text x="705.7" y="918.7" font-family='"Liberation Sans", sans-serif' font-weight="bold" font-size="23.31" fill="#ee1218" text-anchor="start" textLength="41.9" lengthAdjust="spacingAndGlyphs" stroke="#ee1218" stroke-width="0.28">550</text>
<text x="755.4" y="907.5" font-family='"Liberation Sans", sans-serif' font-weight="bold" font-size="14.41" fill="#ee1218" text-anchor="start" textLength="12.9" lengthAdjust="spacingAndGlyphs" stroke="#ee1218" stroke-width="0.22">O</text>
<text x="768.6" y="918.7" font-family='"Liberation Sans", sans-serif' font-weight="bold" font-size="22.6" fill="#ee1218" text-anchor="start" textLength="19.7" lengthAdjust="spacingAndGlyphs" stroke="#ee1218" stroke-width="0.28">C</text>
<text x="698.5" y="959.5" font-family='"Liberation Serif", serif' font-weight="bold" font-size="20.46" fill="#1a1aee" text-anchor="start" textLength="10.0" lengthAdjust="spacingAndGlyphs" stroke="#1a1aee" stroke-width="0.28">a</text>
<text x="715.3" y="959.5" font-family='"Liberation Serif", serif' font-weight="bold" font-size="22.77" fill="#1a1aee" text-anchor="start" textLength="59.5" lengthAdjust="spacingAndGlyphs" stroke="#1a1aee" stroke-width="0.28">CZTS</text>
<text transform="translate(524.8,889.5) rotate(-90)" x="0" y="0" font-family='"Liberation Sans", sans-serif' font-weight="bold" font-size="19.75" fill="#1a1a1a" text-anchor="start" textLength="28.8" lengthAdjust="spacingAndGlyphs" stroke="#1a1a1a" stroke-width="0.28">337</text>
<text x="528.3" y="895.0" font-family='"Liberation Serif", serif' font-weight="bold" font-size="29.23" fill="#1a1aee" text-anchor="start" textLength="12.7" lengthAdjust="spacingAndGlyphs" stroke="#1a1aee" stroke-width="0.28">a</text>
<text transform="translate(290.9,1125.8) rotate(-90)" x="0" y="0" font-family='"Liberation Sans", sans-serif' font-weight="bold" font-size="18.62" fill="#1a1a1a" text-anchor="start" textLength="28.6" lengthAdjust="spacingAndGlyphs" stroke="#1a1a1a" stroke-width="0.28">138</text>
<text x="280.2" y="1153.9" font-family='"Liberation Serif", serif' font-weight="bold" font-size="27.56" fill="#1a1aee" text-anchor="start" textLength="12.8" lengthAdjust="spacingAndGlyphs" stroke="#1a1aee" stroke-width="0.28">a</text>
<text transform="translate(427.1,1112.0) rotate(-90)" x="0" y="0" font-family='"Liberation Sans", sans-serif' font-weight="bold" font-size="18.64" fill="#1a1a1a" text-anchor="start" textLength="28.8" lengthAdjust="spacingAndGlyphs" stroke="#1a1a1a" stroke-width="0.28">251</text>
<text x="416.5" y="1143.0" font-family='"Liberation Serif", serif' font-weight="bold" font-size="27.35" fill="#1a1aee" text-anchor="start" textLength="11.1" lengthAdjust="spacingAndGlyphs" stroke="#1a1aee" stroke-width="0.28">a</text>
<text transform="translate(475.3,1082.3) rotate(-90)" x="0" y="0" font-family='"Liberation Sans", sans-serif' font-weight="bold" font-size="19.92" fill="#1a1a1a" text-anchor="start" textLength="34.2" lengthAdjust="spacingAndGlyphs" stroke="#1a1a1a" stroke-width="0.28">287</text>
<text x="462.4" y="1104.8" font-family='"Liberation Serif", serif' font-weight="bold" font-size="26.72" fill="#1a1aee" text-anchor="start" textLength="12.3" lengthAdjust="spacingAndGlyphs" stroke="#1a1aee" stroke-width="0.28">a</text>
<text transform="translate(574.5,1081.9) rotate(-90)" x="0" y="0" font-family='"Liberation Sans", sans-serif' font-weight="bold" font-size="18.76" fill="#1a1a1a" text-anchor="start" textLength="30.3" lengthAdjust="spacingAndGlyphs" stroke="#1a1a1a" stroke-width="0.28">368</text>
<text x="567.5" y="1098.9" font-family='"Liberation Serif", serif' font-weight="bold" font-size="24.43" fill="#1a1aee" text-anchor="start" textLength="11.6" lengthAdjust="spacingAndGlyphs" stroke="#1a1aee" stroke-width="0.28">a</text>
<rect x="249.3" y="867.6" width="201.2" height="148.2" fill="#fff" stroke="#222" stroke-width="1.5"/>
<line x1="249.3" y1="1015.8" x2="249.3" y2="1018.8" stroke="#222" stroke-width="1.2"/>
<line x1="299.6" y1="1015.8" x2="299.6" y2="1018.8" stroke="#222" stroke-width="1.2"/>
<line x1="349.9" y1="1015.8" x2="349.9" y2="1018.8" stroke="#222" stroke-width="1.2"/>
<line x1="400.2" y1="1015.8" x2="400.2" y2="1018.8" stroke="#222" stroke-width="1.2"/>
<line x1="450.5" y1="1015.8" x2="450.5" y2="1018.8" stroke="#222" stroke-width="1.2"/>
<line x1="274.4" y1="1015.8" x2="274.4" y2="1017.8" stroke="#222" stroke-width="1.2"/>
<line x1="324.8" y1="1015.8" x2="324.8" y2="1017.8" stroke="#222" stroke-width="1.2"/>
<line x1="375.1" y1="1015.8" x2="375.1" y2="1017.8" stroke="#222" stroke-width="1.2"/>
<line x1="425.4" y1="1015.8" x2="425.4" y2="1017.8" stroke="#222" stroke-width="1.2"/>
<text x="235.0" y="1036.9" font-family='"Liberation Sans", sans-serif' font-weight="normal" font-size="16.53" fill="#1a1a1a" text-anchor="start" textLength="27.6" lengthAdjust="spacingAndGlyphs" stroke="#1a1a1a" stroke-width="0.32">200</text>
<text x="285.0" y="1036.9" font-family='"Liberation Sans", sans-serif' font-weight="normal" font-size="16.53" fill="#1a1a1a" text-anchor="start" textLength="26.9" lengthAdjust="spacingAndGlyphs" stroke="#1a1a1a" stroke-width="0.32">250</text>
<text x="336.0" y="1036.9" font-family='"Liberation Sans", sans-serif' font-weight="normal" font-size="16.53" fill="#1a1a1a" text-anchor="start" textLength="26.8" lengthAdjust="spacingAndGlyphs" stroke="#1a1a1a" stroke-width="0.32">300</text>
<text x="386.3" y="1036.9" font-family='"Liberation Sans", sans-serif' font-weight="normal" font-size="16.53" fill="#1a1a1a" text-anchor="start" textLength="25.9" lengthAdjust="spacingAndGlyphs" stroke="#1a1a1a" stroke-width="0.32">350</text>
<text x="435.9" y="1036.9" font-family='"Liberation Sans", sans-serif' font-weight="normal" font-size="16.53" fill="#1a1a1a" text-anchor="start" textLength="27.2" lengthAdjust="spacingAndGlyphs" stroke="#1a1a1a" stroke-width="0.32">400</text>
<text x="287.1" y="1060.5" font-family='"Liberation Sans", sans-serif' font-weight="normal" font-size="12.55" fill="#1a1a1a" text-anchor="start" textLength="98.9" lengthAdjust="spacingAndGlyphs" stroke="#1a1a1a" stroke-width="0.24">Raman Shift (cm</text>
<text x="386.8" y="1055.1" font-family='"Liberation Sans", sans-serif' font-weight="normal" font-size="16.28" fill="#1a1a1a" text-anchor="start" textLength="13.1" lengthAdjust="spacingAndGlyphs" stroke="#1a1a1a" stroke-width="0.32">-1</text>
<text x="401.3" y="1060.2" font-family='"Liberation Sans", sans-serif' font-weight="normal" font-size="14.16" fill="#1a1a1a" text-anchor="start" textLength="5.3" lengthAdjust="spacingAndGlyphs" stroke="#1a1a1a" stroke-width="0.28">)</text>
<line x1="346.9" y1="1002.4" x2="450.5" y2="1002.4" stroke="#33e033" stroke-width="1.5"/>
<line x1="273.2" y1="1014.3" x2="352.3" y2="1014.3" stroke="#33e033" stroke-width="1.5"/>
<path d="M346.9,1001.0 L347.8,1001.0 L348.6,1000.9 L349.5,1000.8 L350.4,1000.8 L351.2,1000.7 L352.1,1000.6 L352.9,1000.5 L353.8,1000.4 L354.7,1000.2 L355.5,1000.1 L356.4,999.9 L357.3,999.7 L358.1,999.4 L359.0,999.1 L359.8,998.7 L360.7,998.2 L361.6,997.6 L362.4,996.9 L363.3,996.1 L364.2,995.0 L365.0,993.8 L365.9,992.3 L366.8,990.5 L367.6,988.4 L368.5,986.0 L369.3,983.1 L370.2,979.9 L371.1,976.3 L371.9,972.2 L372.8,967.7 L373.7,962.8 L374.5,957.5 L375.4,951.9 L376.3,946.0 L377.1,939.9 L378.0,933.7 L378.8,927.5 L379.7,921.5 L380.6,915.7 L381.4,910.4 L382.3,905.7 L383.2,901.8 L384.0,898.8 L384.9,896.8 L385.8,895.8 L386.6,896.1 L387.5,897.5 L388.3,899.9 L389.2,903.3 L390.1,907.6 L390.9,912.6 L391.8,918.1 L392.7,924.0 L393.5,930.1 L394.4,936.3 L395.2,942.5 L396.1,948.5 L397.0,954.3 L397.8,959.8 L398.7,964.9 L399.6,969.7 L400.4,974.0 L401.3,977.9 L402.2,981.3 L403.0,984.4 L403.9,987.0 L404.7,989.3 L405.6,991.3 L406.5,992.9 L407.3,994.3 L408.2,995.5 L409.1,996.4 L409.9,997.2 L410.8,997.9 L411.6,998.4 L412.5,998.9 L413.4,999.2 L414.2,999.5 L415.1,999.8 L416.0,1000.0 L416.8,1000.1 L417.7,1000.3 L418.6,1000.4 L419.4,1000.5 L420.3,1000.6 L421.1,1000.7 L422.0,1000.8 L422.9,1000.9 L423.7,1000.9 L424.6,1001.0 L425.5,1001.1 L426.3,1001.1 L427.2,1001.2 L428.1,1001.2 L428.9,1001.3 L429.8,1001.3 L430.6,1001.3 L431.5,1001.4 L432.4,1001.4 L433.2,1001.5 L434.1,1001.5 L435.0,1001.5 L435.8,1001.5 L436.7,1001.6 L437.6,1001.6 L438.4,1001.6 L439.3,1001.6 L440.1,1001.7 L441.0,1001.7 L441.9,1001.7 L442.7,1001.7 L443.6,1001.8 L444.5,1001.8 L445.3,1001.8 L446.2,1001.8 L447.0,1001.8 L447.9,1001.8 L448.8,1001.9 L449.6,1001.9 L450.5,1001.9" fill="none" stroke="#33e033" stroke-width="1.5" stroke-linejoin="round"/>
<path d="M346.9,1002.3 L347.8,1002.3 L348.6,1002.3 L349.5,1002.3 L350.4,1002.3 L351.2,1002.3 L352.1,1002.3 L352.9,1002.3 L353.8,1002.3 L354.7,1002.3 L355.5,1002.3 L356.4,1002.2 L357.3,1002.2 L358.1,1002.2 L359.0,1002.2 L359.8,1002.2 L360.7,1002.2 L361.6,1002.2 L362.4,1002.2 L363.3,1002.2 L364.2,1002.2 L365.0,1002.2 L365.9,1002.2 L366.8,1002.2 L367.6,1002.2 L368.5,1002.2 L369.3,1002.1 L370.2,1002.1 L371.1,1002.1 L371.9,1002.1 L372.8,1002.1 L373.7,1002.1 L374.5,1002.1 L375.4,1002.1 L376.3,1002.0 L377.1,1002.0 L378.0,1002.0 L378.8,1002.0 L379.7,1002.0 L380.6,1001.9 L381.4,1001.9 L382.3,1001.9 L383.2,1001.9 L384.0,1001.8 L384.9,1001.8 L385.8,1001.7 L386.6,1001.7 L387.5,1001.6 L388.3,1001.5 L389.2,1001.4 L390.1,1001.3 L390.9,1001.1 L391.8,1001.0 L392.7,1000.7 L393.5,1000.5 L394.4,1000.1 L395.2,999.8 L396.1,999.3 L397.0,998.7 L397.8,998.1 L398.7,997.4 L399.6,996.5 L400.4,995.6 L401.3,994.6 L402.2,993.5 L403.0,992.3 L403.9,991.0 L404.7,989.8 L405.6,988.5 L406.5,987.2 L407.3,986.0 L408.2,984.9 L409.1,984.0 L409.9,983.2 L410.8,982.7 L411.6,982.5 L412.5,982.6 L413.4,982.9 L414.2,983.5 L415.1,984.3 L416.0,985.4 L416.8,986.5 L417.7,987.7 L418.6,989.0 L419.4,990.3 L420.3,991.6 L421.1,992.8 L422.0,994.0 L422.9,995.0 L423.7,996.0 L424.6,996.9 L425.5,997.7 L426.3,998.4 L427.2,999.0 L428.1,999.5 L428.9,999.9 L429.8,1000.3 L430.6,1000.6 L431.5,1000.8 L432.4,1001.0 L433.2,1001.2 L434.1,1001.4 L435.0,1001.5 L435.8,1001.6 L436.7,1001.6 L437.6,1001.7 L438.4,1001.7 L439.3,1001.8 L440.1,1001.8 L441.0,1001.9 L441.9,1001.9 L442.7,1001.9 L443.6,1002.0 L444.5,1002.0 L445.3,1002.0 L446.2,1002.0 L447.0,1002.0 L447.9,1002.0 L448.8,1002.1 L449.6,1002.1 L450.5,1002.1" fill="none" stroke="#33e033" stroke-width="1.5" stroke-linejoin="round"/>
<path d="M273.2,1013.9 L273.9,1013.9 L274.5,1013.9 L275.2,1013.9 L275.8,1013.9 L276.5,1013.8 L277.2,1013.8 L277.8,1013.8 L278.5,1013.8 L279.1,1013.8 L279.8,1013.8 L280.5,1013.8 L281.1,1013.8 L281.8,1013.8 L282.4,1013.8 L283.1,1013.7 L283.7,1013.7 L284.4,1013.7 L285.1,1013.7 L285.7,1013.7 L286.4,1013.7 L287.0,1013.6 L287.7,1013.6 L288.4,1013.6 L289.0,1013.6 L289.7,1013.6 L290.3,1013.6 L291.0,1013.5 L291.7,1013.5 L292.3,1013.5 L293.0,1013.4 L293.6,1013.4 L294.3,1013.4 L295.0,1013.3 L295.6,1013.3 L296.3,1013.3 L296.9,1013.2 L297.6,1013.2 L298.2,1013.1 L298.9,1013.1 L299.6,1013.0 L300.2,1012.9 L300.9,1012.8 L301.5,1012.8 L302.2,1012.7 L302.9,1012.6 L303.5,1012.4 L304.2,1012.3 L304.8,1012.2 L305.5,1012.0 L306.2,1011.9 L306.8,1011.7 L307.5,1011.5 L308.1,1011.3 L308.8,1011.0 L309.5,1010.8 L310.1,1010.5 L310.8,1010.2 L311.4,1009.9 L312.1,1009.6 L312.8,1009.2 L313.4,1008.8 L314.1,1008.4 L314.7,1008.0 L315.4,1007.5 L316.0,1007.0 L316.7,1006.5 L317.4,1006.0 L318.0,1005.4 L318.7,1004.8 L319.3,1004.2 L320.0,1003.5 L320.7,1002.8 L321.3,1002.1 L322.0,1001.4 L322.6,1000.7 L323.3,1000.0 L324.0,999.2 L324.6,998.4 L325.3,997.7 L325.9,996.9 L326.6,996.1 L327.3,995.4 L327.9,994.6 L328.6,993.9 L329.2,993.1 L329.9,992.5 L330.5,991.8 L331.2,991.2 L331.9,990.6 L332.5,990.1 L333.2,989.6 L333.8,989.2 L334.5,988.9 L335.2,988.6 L335.8,988.4 L336.5,988.3 L337.1,988.3 L337.8,988.3 L338.5,988.5 L339.1,988.7 L339.8,988.9 L340.4,989.3 L341.1,989.7 L341.8,990.2 L342.4,990.7 L343.1,991.3 L343.7,991.9 L344.4,992.5 L345.0,993.2 L345.7,993.9 L346.4,994.7 L347.0,995.4 L347.7,996.2 L348.3,997.0 L349.0,997.8 L349.7,998.5 L350.3,999.3 L351.0,1000.0 L351.6,1000.8 L352.3,1001.5" fill="none" stroke="#33e033" stroke-width="1.5" stroke-linejoin="round"/>
<path d="M273.2,1013.7 L273.9,1013.7 L274.5,1013.6 L275.2,1013.6 L275.8,1013.5 L276.5,1013.4 L277.2,1013.4 L277.8,1013.3 L278.5,1013.2 L279.1,1013.1 L279.8,1013.0 L280.5,1012.9 L281.1,1012.8 L281.8,1012.7 L282.4,1012.5 L283.1,1012.4 L283.7,1012.2 L284.4,1012.1 L285.1,1011.9 L285.7,1011.7 L286.4,1011.5 L287.0,1011.3 L287.7,1011.1 L288.4,1010.9 L289.0,1010.7 L289.7,1010.5 L290.3,1010.3 L291.0,1010.0 L291.7,1009.8 L292.3,1009.6 L293.0,1009.3 L293.6,1009.1 L294.3,1008.8 L295.0,1008.6 L295.6,1008.4 L296.3,1008.2 L296.9,1007.9 L297.6,1007.8 L298.2,1007.6 L298.9,1007.4 L299.6,1007.2 L300.2,1007.1 L300.9,1007.0 L301.5,1006.9 L302.2,1006.9 L302.9,1006.8 L303.5,1006.8 L304.2,1006.8 L304.8,1006.9 L305.5,1006.9 L306.2,1007.0 L306.8,1007.1 L307.5,1007.3 L308.1,1007.4 L308.8,1007.6 L309.5,1007.8 L310.1,1008.0 L310.8,1008.2 L311.4,1008.4 L312.1,1008.6 L312.8,1008.9 L313.4,1009.1 L314.1,1009.3 L314.7,1009.6 L315.4,1009.8 L316.0,1010.0 L316.7,1010.3 L317.4,1010.5 L318.0,1010.7 L318.7,1010.9 L319.3,1011.2 L320.0,1011.4 L320.7,1011.5 L321.3,1011.7 L322.0,1011.9 L322.6,1012.1 L323.3,1012.2 L324.0,1012.4 L324.6,1012.5 L325.3,1012.7 L325.9,1012.8 L326.6,1012.9 L327.3,1013.0 L327.9,1013.1 L328.6,1013.2 L329.2,1013.3 L329.9,1013.4 L330.5,1013.4 L331.2,1013.5 L331.9,1013.6 L332.5,1013.6 L333.2,1013.7 L333.8,1013.7 L334.5,1013.7 L335.2,1013.8 L335.8,1013.8 L336.5,1013.8 L337.1,1013.9 L337.8,1013.9 L338.5,1013.9 L339.1,1013.9 L339.8,1014.0 L340.4,1014.0 L341.1,1014.0 L341.8,1014.0 L342.4,1014.0 L343.1,1014.0 L343.7,1014.0 L344.4,1014.0 L345.0,1014.1 L345.7,1014.1 L346.4,1014.1 L347.0,1014.1 L347.7,1014.1 L348.3,1014.1 L349.0,1014.1 L349.7,1014.1 L350.3,1014.1 L351.0,1014.1 L351.6,1014.1 L352.3,1014.1" fill="none" stroke="#33e033" stroke-width="1.5" stroke-linejoin="round"/>
<path d="M273.2,1013.3 L273.8,1013.2 L274.4,1013.2 L275.0,1013.1 L275.6,1013.1 L276.2,1013.0 L276.8,1012.9 L277.4,1012.9 L278.0,1012.8 L278.6,1012.7 L279.2,1012.6 L279.8,1012.5 L280.4,1012.4 L281.0,1012.3 L281.6,1012.2 L282.2,1012.0 L282.8,1011.9 L283.4,1011.7 L284.0,1011.6 L284.6,1011.4 L285.2,1011.3 L285.8,1011.1 L286.4,1010.9 L287.0,1010.7 L287.6,1010.5 L288.2,1010.3 L288.8,1010.1 L289.4,1009.9 L290.0,1009.7 L290.6,1009.4 L291.1,1009.2 L291.7,1009.0 L292.3,1008.7 L292.9,1008.5 L293.5,1008.2 L294.1,1008.0 L294.7,1007.7 L295.3,1007.5 L295.9,1007.3 L296.5,1007.0 L297.1,1006.8 L297.7,1006.6 L298.3,1006.4 L298.9,1006.1 L299.5,1005.9 L300.1,1005.8 L300.7,1005.6 L301.3,1005.4 L301.9,1005.3 L302.5,1005.1 L303.1,1005.0 L303.7,1004.9 L304.3,1004.8 L304.9,1004.7 L305.5,1004.6 L306.1,1004.6 L306.7,1004.5 L307.3,1004.5 L307.9,1004.4 L308.5,1004.4 L309.1,1004.3 L309.7,1004.2 L310.3,1004.2 L310.9,1004.1 L311.5,1004.0 L312.1,1003.9 L312.7,1003.8 L313.3,1003.7 L313.9,1003.5 L314.5,1003.3 L315.1,1003.1 L315.7,1002.9 L316.3,1002.7 L316.9,1002.4 L317.5,1002.1 L318.1,1001.8 L318.7,1001.4 L319.3,1001.1 L319.9,1000.7 L320.5,1000.2 L321.1,999.8 L321.7,999.3 L322.3,998.8 L322.9,998.3 L323.5,997.7 L324.1,997.2 L324.7,996.6 L325.3,996.0 L325.9,995.4 L326.5,994.9 L327.1,994.3 L327.6,993.7 L328.2,993.1 L328.8,992.5 L329.4,991.9 L330.0,991.4 L330.6,990.9 L331.2,990.4 L331.8,989.9 L332.4,989.5 L333.0,989.1 L333.6,988.7 L334.2,988.5 L334.8,988.2 L335.4,988.0 L336.0,987.9 L336.6,987.9 L337.2,987.9 L337.8,987.9 L338.4,988.1 L339.0,988.3 L339.6,988.5 L340.2,988.8 L340.8,989.2 L341.4,989.6 L342.0,990.1 L342.6,990.6 L343.2,991.1 L343.8,991.7 L344.4,992.3 L345.0,992.9" fill="none" stroke="#33e033" stroke-width="1.5" stroke-linejoin="round"/>
<path d="M249.3,1015.2 C251.1,1015.1 256.0,1014.8 260.0,1014.6 C264.0,1014.4 268.5,1014.5 273.2,1014.0 C277.9,1013.5 283.2,1012.8 288.3,1011.4 C293.4,1010.0 298.8,1007.2 303.5,1005.6 C308.2,1004.0 312.5,1003.5 316.5,1002.0 C320.5,1000.5 324.6,998.2 327.4,996.5 C330.1,994.8 331.4,992.8 333.0,991.5 C334.6,990.2 335.8,989.2 337.1,989.0 C338.4,988.8 339.7,990.0 341.0,990.5 C342.3,991.0 343.0,991.6 344.7,992.2 C346.4,992.8 349.3,994.2 351.2,994.2 C353.1,994.2 354.2,993.5 356.0,992.5 C357.8,991.5 359.9,990.5 362.0,987.9 C364.1,985.3 366.8,980.8 368.5,977.0 C370.2,973.2 370.9,970.0 372.0,965.0 C373.1,960.0 374.0,952.5 375.0,946.7 C376.0,940.9 377.1,935.4 378.0,930.0 C378.9,924.6 379.4,920.5 380.5,914.2 C381.6,908.0 383.7,897.0 384.8,892.5 C385.9,888.0 386.3,887.1 387.0,887.1 C387.7,887.1 388.4,889.9 389.1,892.5 C389.8,895.1 390.3,897.6 391.0,903.0 C391.7,908.4 392.7,918.3 393.5,925.0 C394.3,931.7 395.1,937.2 396.0,943.0 C396.9,948.8 397.7,954.4 398.9,959.7 C400.1,965.0 401.4,971.3 403.2,974.9 C405.0,978.5 407.5,979.2 409.7,981.4 C411.9,983.6 414.0,985.4 416.2,987.9 C418.4,990.4 420.5,993.2 422.7,996.5 C424.9,999.8 427.0,1004.7 429.2,1007.4 C431.4,1010.1 433.6,1011.7 435.7,1012.8 C437.8,1013.9 439.6,1013.8 442.0,1014.0 C444.4,1014.2 448.5,1014.2 449.8,1014.3" fill="none" stroke="#1a1a1a" stroke-width="1.6" stroke-linejoin="round" stroke-linecap="round"/>
<text x="387.0" y="886.0" font-family='"Liberation Sans", sans-serif' font-weight="bold" font-size="13.5" fill="#1a1aee" text-anchor="middle" stroke="#1a1aee" stroke-width="0.21">a</text>
<text x="336.0" y="973.5" font-family='"Liberation Sans", sans-serif' font-weight="bold" font-size="13.5" fill="#1a1aee" text-anchor="middle" stroke="#1a1aee" stroke-width="0.21">a</text>
<text x="289.4" y="993.0" font-family='"Liberation Sans", sans-serif' font-weight="bold" font-size="13.5" fill="#1a1aee" text-anchor="middle" stroke="#1a1aee" stroke-width="0.21">a</text>
<text x="416.7" y="979.0" font-family='"Liberation Sans", sans-serif' font-weight="bold" font-size="13.5" fill="#1a1aee" text-anchor="middle" stroke="#1a1aee" stroke-width="0.21">a</text>
<line x1="291.6" y1="996.5" x2="298.4" y2="1004.4" stroke="#1a1a1a" stroke-width="1.2"/>
<path d="M298.4,1004.4 L294.3,1002.7 L297.3,1000.1 Z" fill="#1a1a1a"/>
<line x1="336.2" y1="976.5" x2="337.0" y2="986.0" stroke="#1a1a1a" stroke-width="1.2"/>
<path d="M337.0,986.0 L334.7,982.2 L338.7,981.8 Z" fill="#1a1a1a"/>
</svg></body></html>
